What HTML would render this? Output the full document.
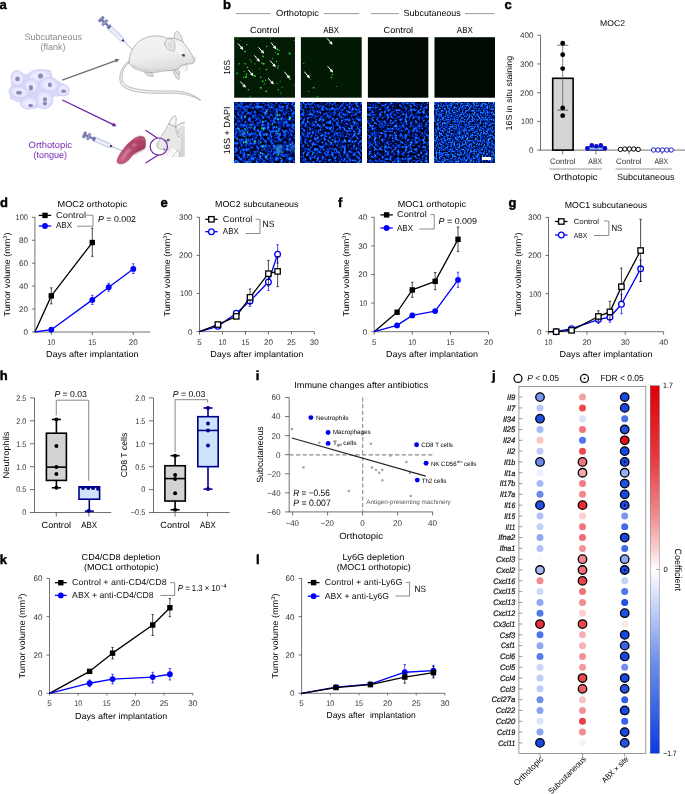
<!DOCTYPE html><html><head><meta charset="utf-8"><title>Figure</title><style>html,body{margin:0;padding:0;background:#fff}svg{display:block}</style></head><body><svg width="685" height="794" viewBox="0 0 685 794" font-family="'Liberation Sans', sans-serif" text-rendering="geometricPrecision"><defs><linearGradient id="cb" x1="0" y1="0" x2="0" y2="1"><stop offset="0" stop-color="#de0008"/><stop offset="0.2" stop-color="#e63a40"/><stop offset="0.35" stop-color="#f08a8d"/><stop offset="0.45" stop-color="#fad4d5"/><stop offset="0.5" stop-color="#ffffff"/><stop offset="0.55" stop-color="#e4eafc"/><stop offset="0.75" stop-color="#6f90ea"/><stop offset="1" stop-color="#0b3be0"/></linearGradient><filter id="soft" x="-10%" y="-10%" width="120%" height="120%"><feGaussianBlur stdDeviation="0.45"/></filter><radialGradient id="cellg"><stop offset="0" stop-color="#f1f1fe"/><stop offset="0.6" stop-color="#e7e8fd"/><stop offset="1" stop-color="#d4d5f9"/></radialGradient><linearGradient id="mg" x1="0" y1="0" x2="0.3" y2="1"><stop offset="0" stop-color="#f4f4f4"/><stop offset="0.6" stop-color="#eeeeee"/><stop offset="1" stop-color="#dcdcdc"/></linearGradient><linearGradient id="tg" x1="0.1" y1="0.9" x2="0.9" y2="0.1"><stop offset="0" stop-color="#c25c80"/><stop offset="0.5" stop-color="#b4486d"/><stop offset="1" stop-color="#a93d62"/></linearGradient><filter id="tb" x="-20%" y="-20%" width="140%" height="140%"><feGaussianBlur stdDeviation="17"/></filter><filter id="d1" x="0" y="0" width="1" height="1" color-interpolation-filters="sRGB"><feTurbulence type="fractalNoise" baseFrequency="0.37 0.33" numOctaves="3" seed="7" result="n"/><feColorMatrix type="matrix" values="2.3 0 0 0 -0.78  2.3 0 0 0 -0.78  2.3 0 0 0 -0.78  0 0 0 0 1"/><feComponentTransfer><feFuncR type="table" tableValues="0 0 0.01 0.02 0.05 0.10"/><feFuncG type="table" tableValues="0.01 0.04 0.13 0.25 0.40 0.54"/><feFuncB type="table" tableValues="0.08 0.26 0.62 0.88 0.98 1"/></feComponentTransfer></filter><filter id="d2" x="0" y="0" width="1" height="1" color-interpolation-filters="sRGB"><feTurbulence type="fractalNoise" baseFrequency="0.41 0.37" numOctaves="3" seed="21" result="n"/><feColorMatrix type="matrix" values="2.5 0 0 0 -0.91  2.5 0 0 0 -0.91  2.5 0 0 0 -0.91  0 0 0 0 1"/><feComponentTransfer><feFuncR type="table" tableValues="0 0 0.01 0.02 0.05 0.10"/><feFuncG type="table" tableValues="0.01 0.04 0.13 0.26 0.41 0.55"/><feFuncB type="table" tableValues="0.07 0.24 0.62 0.90 0.98 1"/></feComponentTransfer></filter><filter id="d3" x="0" y="0" width="1" height="1" color-interpolation-filters="sRGB"><feTurbulence type="fractalNoise" baseFrequency="0.39 0.43" numOctaves="3" seed="33" result="n"/><feColorMatrix type="matrix" values="2.5 0 0 0 -0.93  2.5 0 0 0 -0.93  2.5 0 0 0 -0.93  0 0 0 0 1"/><feComponentTransfer><feFuncR type="table" tableValues="0 0 0.01 0.02 0.05 0.10"/><feFuncG type="table" tableValues="0.01 0.04 0.13 0.26 0.41 0.55"/><feFuncB type="table" tableValues="0.07 0.24 0.62 0.90 0.98 1"/></feComponentTransfer></filter><filter id="d4" x="0" y="0" width="1" height="1" color-interpolation-filters="sRGB"><feTurbulence type="fractalNoise" baseFrequency="0.61 0.57" numOctaves="2" seed="48" result="n"/><feColorMatrix type="matrix" values="2.5 0 0 0 -0.88  2.5 0 0 0 -0.88  2.5 0 0 0 -0.88  0 0 0 0 1"/><feComponentTransfer><feFuncR type="table" tableValues="0 0 0.02 0.04 0.08 0.14"/><feFuncG type="table" tableValues="0.02 0.07 0.19 0.33 0.48 0.62"/><feFuncB type="table" tableValues="0.10 0.32 0.72 0.94 1 1"/></feComponentTransfer></filter><filter id="gb2" x="-30%" y="-30%" width="160%" height="160%"><feGaussianBlur stdDeviation="1.1"/></filter><filter id="gb" x="-5%" y="-5%" width="110%" height="110%"><feGaussianBlur stdDeviation="0.38"/></filter></defs><rect width="685" height="794" fill="#fff"/><g id="panel-d">
<text x="0.00" y="207.30" font-size="13" fill="#000" font-weight="bold" stroke="#000" stroke-width="0.45">d</text>
<text x="57.50" y="207.40" font-size="8.6" textLength="69.50" lengthAdjust="spacingAndGlyphs">MOC2 orthotopic</text>
<line x1="34.90" y1="332.30" x2="34.90" y2="217.00" stroke="#3a3a3a" stroke-width="0.72"/>
<line x1="34.60" y1="332.00" x2="150.20" y2="332.00" stroke="#3a3a3a" stroke-width="0.72"/>
<line x1="31.90" y1="332.00" x2="34.90" y2="332.00" stroke="#3a3a3a" stroke-width="0.72"/>
<text x="27.90" y="334.90" font-size="8.1" text-anchor="end" fill="#333" textLength="4.50" lengthAdjust="spacingAndGlyphs">0</text>
<line x1="31.90" y1="309.06" x2="34.90" y2="309.06" stroke="#3a3a3a" stroke-width="0.72"/>
<text x="27.90" y="311.96" font-size="8.1" text-anchor="end" fill="#333" textLength="9.00" lengthAdjust="spacingAndGlyphs">20</text>
<line x1="31.90" y1="286.12" x2="34.90" y2="286.12" stroke="#3a3a3a" stroke-width="0.72"/>
<text x="27.90" y="289.02" font-size="8.1" text-anchor="end" fill="#333" textLength="9.00" lengthAdjust="spacingAndGlyphs">40</text>
<line x1="31.90" y1="263.18" x2="34.90" y2="263.18" stroke="#3a3a3a" stroke-width="0.72"/>
<text x="27.90" y="266.08" font-size="8.1" text-anchor="end" fill="#333" textLength="9.00" lengthAdjust="spacingAndGlyphs">60</text>
<line x1="31.90" y1="240.24" x2="34.90" y2="240.24" stroke="#3a3a3a" stroke-width="0.72"/>
<text x="27.90" y="243.14" font-size="8.1" text-anchor="end" fill="#333" textLength="9.00" lengthAdjust="spacingAndGlyphs">80</text>
<line x1="31.90" y1="217.30" x2="34.90" y2="217.30" stroke="#3a3a3a" stroke-width="0.72"/>
<text x="27.90" y="220.20" font-size="8.1" text-anchor="end" fill="#333" textLength="12.40" lengthAdjust="spacingAndGlyphs">100</text>
<line x1="51.30" y1="332.00" x2="51.30" y2="335.00" stroke="#3a3a3a" stroke-width="0.72"/>
<text x="51.30" y="345.00" font-size="8.1" text-anchor="middle" fill="#333" textLength="7.90" lengthAdjust="spacingAndGlyphs">10</text>
<line x1="92.30" y1="332.00" x2="92.30" y2="335.00" stroke="#3a3a3a" stroke-width="0.72"/>
<text x="92.30" y="345.00" font-size="8.1" text-anchor="middle" fill="#333" textLength="7.90" lengthAdjust="spacingAndGlyphs">15</text>
<line x1="133.30" y1="332.00" x2="133.30" y2="335.00" stroke="#3a3a3a" stroke-width="0.72"/>
<text x="133.30" y="345.00" font-size="8.1" text-anchor="middle" fill="#333" textLength="9.00" lengthAdjust="spacingAndGlyphs">20</text>
<line x1="51.30" y1="303.90" x2="51.30" y2="287.84" stroke="#000" stroke-width="0.7"/>
<line x1="50.10" y1="303.90" x2="52.50" y2="303.90" stroke="#000" stroke-width="0.7"/>
<line x1="50.10" y1="287.84" x2="52.50" y2="287.84" stroke="#000" stroke-width="0.7"/>
<line x1="92.30" y1="256.30" x2="92.30" y2="228.20" stroke="#000" stroke-width="0.7"/>
<line x1="91.10" y1="256.30" x2="93.50" y2="256.30" stroke="#000" stroke-width="0.7"/>
<line x1="91.10" y1="228.20" x2="93.50" y2="228.20" stroke="#000" stroke-width="0.7"/>
<polyline points="34.90,332.00 51.30,295.87 92.30,242.53" fill="none" stroke="#000" stroke-width="1.3" stroke-linejoin="round"/>
<rect x="48.60" y="293.17" width="5.40" height="5.40" fill="#000"/>
<rect x="89.60" y="239.83" width="5.40" height="5.40" fill="#000"/>
<line x1="92.30" y1="304.47" x2="92.30" y2="295.30" stroke="#0000ff" stroke-width="0.7"/>
<line x1="91.10" y1="304.47" x2="93.50" y2="304.47" stroke="#0000ff" stroke-width="0.7"/>
<line x1="91.10" y1="295.30" x2="93.50" y2="295.30" stroke="#0000ff" stroke-width="0.7"/>
<line x1="108.70" y1="291.28" x2="108.70" y2="283.25" stroke="#0000ff" stroke-width="0.7"/>
<line x1="107.50" y1="291.28" x2="109.90" y2="291.28" stroke="#0000ff" stroke-width="0.7"/>
<line x1="107.50" y1="283.25" x2="109.90" y2="283.25" stroke="#0000ff" stroke-width="0.7"/>
<line x1="133.30" y1="273.50" x2="133.30" y2="263.75" stroke="#0000ff" stroke-width="0.7"/>
<line x1="132.10" y1="273.50" x2="134.50" y2="273.50" stroke="#0000ff" stroke-width="0.7"/>
<line x1="132.10" y1="263.75" x2="134.50" y2="263.75" stroke="#0000ff" stroke-width="0.7"/>
<polyline points="34.90,332.00 51.30,329.71 92.30,299.88 108.70,287.27 133.30,268.92" fill="none" stroke="#0000ff" stroke-width="1.3" stroke-linejoin="round"/>
<circle cx="51.30" cy="329.71" r="2.9" fill="#0000ff"/>
<circle cx="92.30" cy="299.88" r="2.9" fill="#0000ff"/>
<circle cx="108.70" cy="287.27" r="2.9" fill="#0000ff"/>
<circle cx="133.30" cy="268.92" r="2.9" fill="#0000ff"/>
<text x="10.40" y="274.50" font-size="8.6" text-anchor="middle" transform="rotate(-90 10.40 274.50)" textLength="84.00" lengthAdjust="spacingAndGlyphs">Tumor volume (mm<tspan dy="-3" font-size="5.5">3</tspan><tspan dy="3">)</tspan></text>
<line x1="38.80" y1="215.40" x2="51.20" y2="215.40" stroke="#000" stroke-width="1.3"/>
<rect x="42.30" y="212.70" width="5.40" height="5.40" fill="#000"/>
<line x1="38.80" y1="226.00" x2="51.20" y2="226.00" stroke="#0000ff" stroke-width="1.3"/>
<circle cx="45.00" cy="226.00" r="2.9" fill="#0000ff"/>
<text x="56.00" y="217.80" font-size="8.6" fill="#111" textLength="30.00" lengthAdjust="spacingAndGlyphs">Control</text>
<text x="56.00" y="228.40" font-size="8.6" fill="#111" textLength="16.00" lengthAdjust="spacingAndGlyphs">ABX</text>
<polyline points="86.30,215.20 93.00,215.20 93.00,226.20 77.00,226.20" fill="none" stroke="#555" stroke-width="0.68"/>
<text x="98.00" y="222.40" font-size="8.6" textLength="38.00" lengthAdjust="spacingAndGlyphs"><tspan font-style="italic">P</tspan> = 0.002</text>
<text x="45.90" y="357.00" font-size="8.6" textLength="92.60" lengthAdjust="spacingAndGlyphs">Days after implantation</text>
</g>
<g id="panel-e">
<text x="160.60" y="207.30" font-size="13" fill="#000" font-weight="bold" stroke="#000" stroke-width="0.45">e</text>
<text x="215.00" y="207.40" font-size="8.6" textLength="83.50" lengthAdjust="spacingAndGlyphs">MOC2 subcutaneous</text>
<line x1="199.50" y1="331.90" x2="199.50" y2="217.00" stroke="#3a3a3a" stroke-width="0.72"/>
<line x1="199.20" y1="331.60" x2="314.20" y2="331.60" stroke="#3a3a3a" stroke-width="0.72"/>
<line x1="196.50" y1="331.60" x2="199.50" y2="331.60" stroke="#3a3a3a" stroke-width="0.72"/>
<text x="192.50" y="334.50" font-size="8.1" text-anchor="end" fill="#333" textLength="4.50" lengthAdjust="spacingAndGlyphs">0</text>
<line x1="196.50" y1="293.50" x2="199.50" y2="293.50" stroke="#3a3a3a" stroke-width="0.72"/>
<text x="192.50" y="296.40" font-size="8.1" text-anchor="end" fill="#333" textLength="12.40" lengthAdjust="spacingAndGlyphs">100</text>
<line x1="196.50" y1="255.40" x2="199.50" y2="255.40" stroke="#3a3a3a" stroke-width="0.72"/>
<text x="192.50" y="258.30" font-size="8.1" text-anchor="end" fill="#333" textLength="13.50" lengthAdjust="spacingAndGlyphs">200</text>
<line x1="196.50" y1="217.30" x2="199.50" y2="217.30" stroke="#3a3a3a" stroke-width="0.72"/>
<text x="192.50" y="220.20" font-size="8.1" text-anchor="end" fill="#333" textLength="13.50" lengthAdjust="spacingAndGlyphs">300</text>
<line x1="199.50" y1="331.60" x2="199.50" y2="334.60" stroke="#3a3a3a" stroke-width="0.72"/>
<text x="199.50" y="344.60" font-size="8.1" text-anchor="middle" fill="#333" textLength="4.50" lengthAdjust="spacingAndGlyphs">5</text>
<line x1="222.47" y1="331.60" x2="222.47" y2="334.60" stroke="#3a3a3a" stroke-width="0.72"/>
<text x="222.47" y="344.60" font-size="8.1" text-anchor="middle" fill="#333" textLength="7.90" lengthAdjust="spacingAndGlyphs">10</text>
<line x1="245.44" y1="331.60" x2="245.44" y2="334.60" stroke="#3a3a3a" stroke-width="0.72"/>
<text x="245.44" y="344.60" font-size="8.1" text-anchor="middle" fill="#333" textLength="7.90" lengthAdjust="spacingAndGlyphs">15</text>
<line x1="268.41" y1="331.60" x2="268.41" y2="334.60" stroke="#3a3a3a" stroke-width="0.72"/>
<text x="268.41" y="344.60" font-size="8.1" text-anchor="middle" fill="#333" textLength="9.00" lengthAdjust="spacingAndGlyphs">20</text>
<line x1="291.38" y1="331.60" x2="291.38" y2="334.60" stroke="#3a3a3a" stroke-width="0.72"/>
<text x="291.38" y="344.60" font-size="8.1" text-anchor="middle" fill="#333" textLength="9.00" lengthAdjust="spacingAndGlyphs">25</text>
<line x1="314.35" y1="331.60" x2="314.35" y2="334.60" stroke="#3a3a3a" stroke-width="0.72"/>
<text x="314.35" y="344.60" font-size="8.1" text-anchor="middle" fill="#333" textLength="9.00" lengthAdjust="spacingAndGlyphs">30</text>
<line x1="250.03" y1="306.45" x2="250.03" y2="295.41" stroke="#0000ff" stroke-width="0.7"/>
<line x1="248.83" y1="306.45" x2="251.23" y2="306.45" stroke="#0000ff" stroke-width="0.7"/>
<line x1="248.83" y1="295.41" x2="251.23" y2="295.41" stroke="#0000ff" stroke-width="0.7"/>
<line x1="268.41" y1="290.45" x2="268.41" y2="273.69" stroke="#0000ff" stroke-width="0.7"/>
<line x1="267.21" y1="290.45" x2="269.61" y2="290.45" stroke="#0000ff" stroke-width="0.7"/>
<line x1="267.21" y1="273.69" x2="269.61" y2="273.69" stroke="#0000ff" stroke-width="0.7"/>
<line x1="277.60" y1="263.02" x2="277.60" y2="244.73" stroke="#0000ff" stroke-width="0.7"/>
<line x1="276.40" y1="263.02" x2="278.80" y2="263.02" stroke="#0000ff" stroke-width="0.7"/>
<line x1="276.40" y1="244.73" x2="278.80" y2="244.73" stroke="#0000ff" stroke-width="0.7"/>
<polyline points="199.50,331.60 217.88,326.27 236.25,313.31 250.03,301.12 268.41,282.07 277.60,254.26" fill="none" stroke="#0000ff" stroke-width="1.3" stroke-linejoin="round"/>
<circle cx="217.88" cy="326.27" r="2.85" fill="#fff" stroke="#0000ff" stroke-width="1.3"/>
<circle cx="236.25" cy="313.31" r="2.85" fill="#fff" stroke="#0000ff" stroke-width="1.3"/>
<circle cx="250.03" cy="301.12" r="2.85" fill="#fff" stroke="#0000ff" stroke-width="1.3"/>
<circle cx="268.41" cy="282.07" r="2.85" fill="#fff" stroke="#0000ff" stroke-width="1.3"/>
<circle cx="277.60" cy="254.26" r="2.85" fill="#fff" stroke="#0000ff" stroke-width="1.3"/>
<line x1="250.03" y1="304.17" x2="250.03" y2="288.93" stroke="#000" stroke-width="0.7"/>
<line x1="248.83" y1="304.17" x2="251.23" y2="304.17" stroke="#000" stroke-width="0.7"/>
<line x1="248.83" y1="288.93" x2="251.23" y2="288.93" stroke="#000" stroke-width="0.7"/>
<line x1="268.41" y1="285.88" x2="268.41" y2="260.35" stroke="#000" stroke-width="0.7"/>
<line x1="267.21" y1="285.88" x2="269.61" y2="285.88" stroke="#000" stroke-width="0.7"/>
<line x1="267.21" y1="260.35" x2="269.61" y2="260.35" stroke="#000" stroke-width="0.7"/>
<line x1="277.60" y1="286.64" x2="277.60" y2="256.54" stroke="#000" stroke-width="0.7"/>
<line x1="276.40" y1="286.64" x2="278.80" y2="286.64" stroke="#000" stroke-width="0.7"/>
<line x1="276.40" y1="256.54" x2="278.80" y2="256.54" stroke="#000" stroke-width="0.7"/>
<polyline points="199.50,331.60 217.88,324.55 236.25,316.36 250.03,297.31 268.41,273.69 277.60,271.40" fill="none" stroke="#000" stroke-width="1.3" stroke-linejoin="round"/>
<rect x="215.18" y="321.85" width="5.40" height="5.40" fill="#fff" stroke="#000" stroke-width="1.3"/>
<rect x="233.55" y="313.66" width="5.40" height="5.40" fill="#fff" stroke="#000" stroke-width="1.3"/>
<rect x="247.33" y="294.61" width="5.40" height="5.40" fill="#fff" stroke="#000" stroke-width="1.3"/>
<rect x="265.71" y="270.99" width="5.40" height="5.40" fill="#fff" stroke="#000" stroke-width="1.3"/>
<rect x="274.90" y="268.70" width="5.40" height="5.40" fill="#fff" stroke="#000" stroke-width="1.3"/>
<text x="170.30" y="274.50" font-size="8.6" text-anchor="middle" transform="rotate(-90 170.30 274.50)" textLength="84.00" lengthAdjust="spacingAndGlyphs">Tumor volume (mm<tspan dy="-3" font-size="5.5">3</tspan><tspan dy="3">)</tspan></text>
<line x1="205.20" y1="219.30" x2="217.60" y2="219.30" stroke="#000" stroke-width="1.3"/>
<rect x="208.70" y="216.60" width="5.40" height="5.40" fill="#fff" stroke="#000" stroke-width="1.3"/>
<line x1="205.20" y1="231.70" x2="217.60" y2="231.70" stroke="#0000ff" stroke-width="1.3"/>
<circle cx="211.40" cy="231.70" r="2.85" fill="#fff" stroke="#0000ff" stroke-width="1.3"/>
<text x="222.80" y="221.90" font-size="8.6" fill="#111" textLength="29.50" lengthAdjust="spacingAndGlyphs">Control</text>
<text x="222.80" y="234.30" font-size="8.6" fill="#111" textLength="16.00" lengthAdjust="spacingAndGlyphs">ABX</text>
<polyline points="255.60,219.30 260.00,219.30 260.00,233.50 245.60,233.50" fill="none" stroke="#555" stroke-width="0.68"/>
<text x="262.50" y="227.40" font-size="9" textLength="12.00" lengthAdjust="spacingAndGlyphs">NS</text>
<text x="210.20" y="357.00" font-size="8.6" textLength="93.20" lengthAdjust="spacingAndGlyphs">Days after implantation</text>
</g>
<g id="panel-f">
<text x="338.00" y="207.30" font-size="13" fill="#000" font-weight="bold" stroke="#000" stroke-width="0.45">f</text>
<text x="397.80" y="207.40" font-size="8.6" textLength="68.20" lengthAdjust="spacingAndGlyphs">MOC1 orthotopic</text>
<line x1="374.20" y1="332.00" x2="374.20" y2="217.00" stroke="#3a3a3a" stroke-width="0.72"/>
<line x1="373.90" y1="331.70" x2="488.60" y2="331.70" stroke="#3a3a3a" stroke-width="0.72"/>
<line x1="371.20" y1="331.70" x2="374.20" y2="331.70" stroke="#3a3a3a" stroke-width="0.72"/>
<text x="367.20" y="334.60" font-size="8.1" text-anchor="end" fill="#333" textLength="4.50" lengthAdjust="spacingAndGlyphs">0</text>
<line x1="371.20" y1="303.10" x2="374.20" y2="303.10" stroke="#3a3a3a" stroke-width="0.72"/>
<text x="367.20" y="306.00" font-size="8.1" text-anchor="end" fill="#333" textLength="7.90" lengthAdjust="spacingAndGlyphs">10</text>
<line x1="371.20" y1="274.50" x2="374.20" y2="274.50" stroke="#3a3a3a" stroke-width="0.72"/>
<text x="367.20" y="277.40" font-size="8.1" text-anchor="end" fill="#333" textLength="9.00" lengthAdjust="spacingAndGlyphs">20</text>
<line x1="371.20" y1="245.90" x2="374.20" y2="245.90" stroke="#3a3a3a" stroke-width="0.72"/>
<text x="367.20" y="248.80" font-size="8.1" text-anchor="end" fill="#333" textLength="9.00" lengthAdjust="spacingAndGlyphs">30</text>
<line x1="371.20" y1="217.30" x2="374.20" y2="217.30" stroke="#3a3a3a" stroke-width="0.72"/>
<text x="367.20" y="220.20" font-size="8.1" text-anchor="end" fill="#333" textLength="9.00" lengthAdjust="spacingAndGlyphs">40</text>
<line x1="374.20" y1="331.70" x2="374.20" y2="334.70" stroke="#3a3a3a" stroke-width="0.72"/>
<text x="374.20" y="344.70" font-size="8.1" text-anchor="middle" fill="#333" textLength="4.50" lengthAdjust="spacingAndGlyphs">5</text>
<line x1="412.30" y1="331.70" x2="412.30" y2="334.70" stroke="#3a3a3a" stroke-width="0.72"/>
<text x="412.30" y="344.70" font-size="8.1" text-anchor="middle" fill="#333" textLength="7.90" lengthAdjust="spacingAndGlyphs">10</text>
<line x1="450.40" y1="331.70" x2="450.40" y2="334.70" stroke="#3a3a3a" stroke-width="0.72"/>
<text x="450.40" y="344.70" font-size="8.1" text-anchor="middle" fill="#333" textLength="7.90" lengthAdjust="spacingAndGlyphs">15</text>
<line x1="488.50" y1="331.70" x2="488.50" y2="334.70" stroke="#3a3a3a" stroke-width="0.72"/>
<text x="488.50" y="344.70" font-size="8.1" text-anchor="middle" fill="#333" textLength="9.00" lengthAdjust="spacingAndGlyphs">20</text>
<line x1="412.30" y1="297.38" x2="412.30" y2="282.22" stroke="#000" stroke-width="0.7"/>
<line x1="411.10" y1="297.38" x2="413.50" y2="297.38" stroke="#000" stroke-width="0.7"/>
<line x1="411.10" y1="282.22" x2="413.50" y2="282.22" stroke="#000" stroke-width="0.7"/>
<line x1="435.16" y1="289.66" x2="435.16" y2="272.50" stroke="#000" stroke-width="0.7"/>
<line x1="433.96" y1="289.66" x2="436.36" y2="289.66" stroke="#000" stroke-width="0.7"/>
<line x1="433.96" y1="272.50" x2="436.36" y2="272.50" stroke="#000" stroke-width="0.7"/>
<line x1="458.02" y1="251.62" x2="458.02" y2="227.02" stroke="#000" stroke-width="0.7"/>
<line x1="456.82" y1="251.62" x2="459.22" y2="251.62" stroke="#000" stroke-width="0.7"/>
<line x1="456.82" y1="227.02" x2="459.22" y2="227.02" stroke="#000" stroke-width="0.7"/>
<polyline points="374.20,331.70 397.06,312.25 412.30,289.94 435.16,281.36 458.02,239.32" fill="none" stroke="#000" stroke-width="1.3" stroke-linejoin="round"/>
<rect x="394.36" y="309.55" width="5.40" height="5.40" fill="#000"/>
<rect x="409.60" y="287.24" width="5.40" height="5.40" fill="#000"/>
<rect x="432.46" y="278.66" width="5.40" height="5.40" fill="#000"/>
<rect x="455.32" y="236.62" width="5.40" height="5.40" fill="#000"/>
<line x1="458.02" y1="287.37" x2="458.02" y2="272.21" stroke="#0000ff" stroke-width="0.7"/>
<line x1="456.82" y1="287.37" x2="459.22" y2="287.37" stroke="#0000ff" stroke-width="0.7"/>
<line x1="456.82" y1="272.21" x2="459.22" y2="272.21" stroke="#0000ff" stroke-width="0.7"/>
<polyline points="374.20,331.70 397.06,325.41 412.30,315.40 435.16,311.11 458.02,279.93" fill="none" stroke="#0000ff" stroke-width="1.3" stroke-linejoin="round"/>
<circle cx="397.06" cy="325.41" r="2.9" fill="#0000ff"/>
<circle cx="412.30" cy="315.40" r="2.9" fill="#0000ff"/>
<circle cx="435.16" cy="311.11" r="2.9" fill="#0000ff"/>
<circle cx="458.02" cy="279.93" r="2.9" fill="#0000ff"/>
<text x="349.00" y="274.50" font-size="8.6" text-anchor="middle" transform="rotate(-90 349.00 274.50)" textLength="84.00" lengthAdjust="spacingAndGlyphs">Tumor volume (mm<tspan dy="-3" font-size="5.5">3</tspan><tspan dy="3">)</tspan></text>
<line x1="380.40" y1="214.90" x2="392.80" y2="214.90" stroke="#000" stroke-width="1.3"/>
<rect x="383.90" y="212.20" width="5.40" height="5.40" fill="#000"/>
<line x1="380.40" y1="228.00" x2="392.80" y2="228.00" stroke="#0000ff" stroke-width="1.3"/>
<circle cx="386.60" cy="228.00" r="2.9" fill="#0000ff"/>
<text x="397.00" y="217.40" font-size="8.6" fill="#111" textLength="29.80" lengthAdjust="spacingAndGlyphs">Control</text>
<text x="397.00" y="230.60" font-size="8.6" fill="#111" textLength="16.00" lengthAdjust="spacingAndGlyphs">ABX</text>
<polyline points="430.50,214.60 434.20,214.60 434.20,229.00 419.40,229.00" fill="none" stroke="#555" stroke-width="0.68"/>
<text x="438.50" y="223.50" font-size="8.6" textLength="38.50" lengthAdjust="spacingAndGlyphs"><tspan font-style="italic">P</tspan> = 0.009</text>
<text x="386.00" y="357.00" font-size="8.6" textLength="92.00" lengthAdjust="spacingAndGlyphs">Days after implantation</text>
</g>
<g id="panel-g">
<text x="508.60" y="207.30" font-size="13" fill="#000" font-weight="bold" stroke="#000" stroke-width="0.45">g</text>
<text x="564.80" y="207.70" font-size="8.6" textLength="82.40" lengthAdjust="spacingAndGlyphs">MOC1 subcutaneous</text>
<line x1="548.50" y1="332.00" x2="548.50" y2="217.00" stroke="#3a3a3a" stroke-width="0.72"/>
<line x1="548.20" y1="331.70" x2="663.60" y2="331.70" stroke="#3a3a3a" stroke-width="0.72"/>
<line x1="545.50" y1="331.70" x2="548.50" y2="331.70" stroke="#3a3a3a" stroke-width="0.72"/>
<text x="541.50" y="334.60" font-size="8.1" text-anchor="end" fill="#333" textLength="4.50" lengthAdjust="spacingAndGlyphs">0</text>
<line x1="545.50" y1="293.60" x2="548.50" y2="293.60" stroke="#3a3a3a" stroke-width="0.72"/>
<text x="541.50" y="296.50" font-size="8.1" text-anchor="end" fill="#333" textLength="12.40" lengthAdjust="spacingAndGlyphs">100</text>
<line x1="545.50" y1="255.50" x2="548.50" y2="255.50" stroke="#3a3a3a" stroke-width="0.72"/>
<text x="541.50" y="258.40" font-size="8.1" text-anchor="end" fill="#333" textLength="13.50" lengthAdjust="spacingAndGlyphs">200</text>
<line x1="545.50" y1="217.40" x2="548.50" y2="217.40" stroke="#3a3a3a" stroke-width="0.72"/>
<text x="541.50" y="220.30" font-size="8.1" text-anchor="end" fill="#333" textLength="13.50" lengthAdjust="spacingAndGlyphs">300</text>
<line x1="548.50" y1="331.70" x2="548.50" y2="334.70" stroke="#3a3a3a" stroke-width="0.72"/>
<text x="548.50" y="344.70" font-size="8.1" text-anchor="middle" fill="#333" textLength="7.90" lengthAdjust="spacingAndGlyphs">10</text>
<line x1="586.88" y1="331.70" x2="586.88" y2="334.70" stroke="#3a3a3a" stroke-width="0.72"/>
<text x="586.88" y="344.70" font-size="8.1" text-anchor="middle" fill="#333" textLength="9.00" lengthAdjust="spacingAndGlyphs">20</text>
<line x1="625.26" y1="331.70" x2="625.26" y2="334.70" stroke="#3a3a3a" stroke-width="0.72"/>
<text x="625.26" y="344.70" font-size="8.1" text-anchor="middle" fill="#333" textLength="9.00" lengthAdjust="spacingAndGlyphs">30</text>
<line x1="663.64" y1="331.70" x2="663.64" y2="334.70" stroke="#3a3a3a" stroke-width="0.72"/>
<text x="663.64" y="344.70" font-size="8.1" text-anchor="middle" fill="#333" textLength="9.00" lengthAdjust="spacingAndGlyphs">40</text>
<line x1="598.39" y1="323.32" x2="598.39" y2="315.70" stroke="#0000ff" stroke-width="0.7"/>
<line x1="597.19" y1="323.32" x2="599.59" y2="323.32" stroke="#0000ff" stroke-width="0.7"/>
<line x1="597.19" y1="315.70" x2="599.59" y2="315.70" stroke="#0000ff" stroke-width="0.7"/>
<line x1="609.91" y1="322.18" x2="609.91" y2="312.65" stroke="#0000ff" stroke-width="0.7"/>
<line x1="608.71" y1="322.18" x2="611.11" y2="322.18" stroke="#0000ff" stroke-width="0.7"/>
<line x1="608.71" y1="312.65" x2="611.11" y2="312.65" stroke="#0000ff" stroke-width="0.7"/>
<line x1="621.42" y1="313.79" x2="621.42" y2="294.36" stroke="#0000ff" stroke-width="0.7"/>
<line x1="620.22" y1="313.79" x2="622.62" y2="313.79" stroke="#0000ff" stroke-width="0.7"/>
<line x1="620.22" y1="294.36" x2="622.62" y2="294.36" stroke="#0000ff" stroke-width="0.7"/>
<line x1="640.61" y1="281.41" x2="640.61" y2="260.07" stroke="#0000ff" stroke-width="0.7"/>
<line x1="639.41" y1="281.41" x2="641.81" y2="281.41" stroke="#0000ff" stroke-width="0.7"/>
<line x1="639.41" y1="260.07" x2="641.81" y2="260.07" stroke="#0000ff" stroke-width="0.7"/>
<polyline points="548.50,331.70 556.18,331.70 571.53,328.65 598.39,319.51 609.91,317.22 621.42,304.27 640.61,268.83" fill="none" stroke="#0000ff" stroke-width="1.3" stroke-linejoin="round"/>
<circle cx="556.18" cy="331.70" r="2.85" fill="#fff" stroke="#0000ff" stroke-width="1.3"/>
<circle cx="571.53" cy="328.65" r="2.85" fill="#fff" stroke="#0000ff" stroke-width="1.3"/>
<circle cx="598.39" cy="319.51" r="2.85" fill="#fff" stroke="#0000ff" stroke-width="1.3"/>
<circle cx="609.91" cy="317.22" r="2.85" fill="#fff" stroke="#0000ff" stroke-width="1.3"/>
<circle cx="621.42" cy="304.27" r="2.85" fill="#fff" stroke="#0000ff" stroke-width="1.3"/>
<circle cx="640.61" cy="268.83" r="2.85" fill="#fff" stroke="#0000ff" stroke-width="1.3"/>
<line x1="598.39" y1="321.03" x2="598.39" y2="310.75" stroke="#000" stroke-width="0.7"/>
<line x1="597.19" y1="321.03" x2="599.59" y2="321.03" stroke="#000" stroke-width="0.7"/>
<line x1="597.19" y1="310.75" x2="599.59" y2="310.75" stroke="#000" stroke-width="0.7"/>
<line x1="609.91" y1="319.51" x2="609.91" y2="301.22" stroke="#000" stroke-width="0.7"/>
<line x1="608.71" y1="319.51" x2="611.11" y2="319.51" stroke="#000" stroke-width="0.7"/>
<line x1="608.71" y1="301.22" x2="611.11" y2="301.22" stroke="#000" stroke-width="0.7"/>
<line x1="621.42" y1="301.22" x2="621.42" y2="268.07" stroke="#000" stroke-width="0.7"/>
<line x1="620.22" y1="301.22" x2="622.62" y2="301.22" stroke="#000" stroke-width="0.7"/>
<line x1="620.22" y1="268.07" x2="622.62" y2="268.07" stroke="#000" stroke-width="0.7"/>
<line x1="640.61" y1="281.41" x2="640.61" y2="219.31" stroke="#000" stroke-width="0.7"/>
<line x1="639.41" y1="281.41" x2="641.81" y2="281.41" stroke="#000" stroke-width="0.7"/>
<line x1="639.41" y1="219.31" x2="641.81" y2="219.31" stroke="#000" stroke-width="0.7"/>
<polyline points="548.50,331.70 556.18,331.70 571.53,330.33 598.39,316.46 609.91,311.89 621.42,286.74 640.61,250.55" fill="none" stroke="#000" stroke-width="1.3" stroke-linejoin="round"/>
<rect x="553.48" y="329.00" width="5.40" height="5.40" fill="#fff" stroke="#000" stroke-width="1.3"/>
<rect x="568.83" y="327.63" width="5.40" height="5.40" fill="#fff" stroke="#000" stroke-width="1.3"/>
<rect x="595.69" y="313.76" width="5.40" height="5.40" fill="#fff" stroke="#000" stroke-width="1.3"/>
<rect x="607.21" y="309.19" width="5.40" height="5.40" fill="#fff" stroke="#000" stroke-width="1.3"/>
<rect x="618.72" y="284.04" width="5.40" height="5.40" fill="#fff" stroke="#000" stroke-width="1.3"/>
<rect x="637.91" y="247.85" width="5.40" height="5.40" fill="#fff" stroke="#000" stroke-width="1.3"/>
<text x="521.40" y="274.50" font-size="8.6" text-anchor="middle" transform="rotate(-90 521.40 274.50)" textLength="84.00" lengthAdjust="spacingAndGlyphs">Tumor volume (mm<tspan dy="-3" font-size="5.5">3</tspan><tspan dy="3">)</tspan></text>
<line x1="555.10" y1="221.50" x2="567.50" y2="221.50" stroke="#000" stroke-width="1.3"/>
<rect x="558.60" y="218.80" width="5.40" height="5.40" fill="#fff" stroke="#000" stroke-width="1.3"/>
<line x1="555.10" y1="235.00" x2="567.50" y2="235.00" stroke="#0000ff" stroke-width="1.3"/>
<circle cx="561.30" cy="235.00" r="2.85" fill="#fff" stroke="#0000ff" stroke-width="1.3"/>
<text x="573.70" y="224.20" font-size="7.4" fill="#111" textLength="25.30" lengthAdjust="spacingAndGlyphs">Control</text>
<text x="573.70" y="237.70" font-size="7.4" fill="#111" textLength="13.70" lengthAdjust="spacingAndGlyphs">ABX</text>
<polyline points="604.00,221.00 608.80,221.00 608.80,235.50 594.00,235.50" fill="none" stroke="#555" stroke-width="0.68"/>
<text x="611.50" y="230.70" font-size="9" textLength="10.80" lengthAdjust="spacingAndGlyphs">NS</text>
<text x="559.50" y="357.00" font-size="8.6" textLength="93.00" lengthAdjust="spacingAndGlyphs">Days after implantation</text>
</g>
<g id="panel-c">
<text x="504.60" y="9.10" font-size="13" fill="#000" font-weight="bold" stroke="#000" stroke-width="0.45">c</text>
<text x="600.00" y="26.20" font-size="8.4" textLength="25.00" lengthAdjust="spacingAndGlyphs">MOC2</text>
<line x1="540.50" y1="150.40" x2="540.50" y2="35.22" stroke="#3a3a3a" stroke-width="0.72"/>
<line x1="540.20" y1="150.10" x2="685.00" y2="150.10" stroke="#3a3a3a" stroke-width="0.72"/>
<line x1="537.20" y1="150.10" x2="540.50" y2="150.10" stroke="#3a3a3a" stroke-width="0.72"/>
<text x="533.40" y="153.00" font-size="8.1" text-anchor="end" fill="#333" textLength="4.50" lengthAdjust="spacingAndGlyphs">0</text>
<line x1="537.20" y1="121.38" x2="540.50" y2="121.38" stroke="#3a3a3a" stroke-width="0.72"/>
<text x="533.40" y="124.28" font-size="8.1" text-anchor="end" fill="#333" textLength="12.40" lengthAdjust="spacingAndGlyphs">100</text>
<line x1="537.20" y1="92.66" x2="540.50" y2="92.66" stroke="#3a3a3a" stroke-width="0.72"/>
<text x="533.40" y="95.56" font-size="8.1" text-anchor="end" fill="#333" textLength="13.50" lengthAdjust="spacingAndGlyphs">200</text>
<line x1="537.20" y1="63.94" x2="540.50" y2="63.94" stroke="#3a3a3a" stroke-width="0.72"/>
<text x="533.40" y="66.84" font-size="8.1" text-anchor="end" fill="#333" textLength="13.50" lengthAdjust="spacingAndGlyphs">300</text>
<line x1="537.20" y1="35.22" x2="540.50" y2="35.22" stroke="#3a3a3a" stroke-width="0.72"/>
<text x="533.40" y="38.12" font-size="8.1" text-anchor="end" fill="#333" textLength="13.50" lengthAdjust="spacingAndGlyphs">400</text>
<line x1="562.70" y1="150.10" x2="562.70" y2="154.40" stroke="#3a3a3a" stroke-width="0.72"/>
<line x1="595.90" y1="150.10" x2="595.90" y2="154.40" stroke="#3a3a3a" stroke-width="0.72"/>
<line x1="629.00" y1="150.10" x2="629.00" y2="154.40" stroke="#3a3a3a" stroke-width="0.72"/>
<line x1="662.00" y1="150.10" x2="662.00" y2="154.40" stroke="#3a3a3a" stroke-width="0.72"/>
<rect x="552.70" y="78.30" width="20.40" height="71.80" fill="#d4d4d4" stroke="#000" stroke-width="1.6"/>
<line x1="562.70" y1="110.18" x2="562.70" y2="45.27" stroke="#555" stroke-width="0.7"/>
<line x1="557.30" y1="45.27" x2="568.30" y2="45.27" stroke="#333" stroke-width="0.7"/>
<line x1="557.30" y1="110.18" x2="568.30" y2="110.18" stroke="#333" stroke-width="0.7"/>
<circle cx="562.70" cy="43.26" r="2.4" fill="#000"/>
<circle cx="562.70" cy="54.75" r="2.4" fill="#000"/>
<circle cx="562.70" cy="68.54" r="2.4" fill="#000"/>
<circle cx="562.70" cy="107.88" r="2.4" fill="#000"/>
<circle cx="562.70" cy="115.64" r="2.4" fill="#000"/>
<rect x="586.50" y="146.94" width="19.00" height="3.16" fill="#9cc3ee" stroke="#00008b" stroke-width="1.0"/>
<circle cx="587.30" cy="148.20" r="2.3" fill="#0a0acd"/>
<circle cx="591.80" cy="145.20" r="2.3" fill="#0a0acd"/>
<circle cx="596.30" cy="146.20" r="2.3" fill="#0a0acd"/>
<circle cx="600.80" cy="145.40" r="2.3" fill="#0a0acd"/>
<circle cx="605.00" cy="148.20" r="2.3" fill="#0a0acd"/>
<circle cx="620.40" cy="149.40" r="2.2" fill="#fff" stroke="#000" stroke-width="1.0"/>
<circle cx="624.85" cy="149.00" r="2.2" fill="#fff" stroke="#000" stroke-width="1.0"/>
<circle cx="629.30" cy="149.00" r="2.2" fill="#fff" stroke="#000" stroke-width="1.0"/>
<circle cx="633.75" cy="149.00" r="2.2" fill="#fff" stroke="#000" stroke-width="1.0"/>
<circle cx="638.20" cy="149.40" r="2.2" fill="#fff" stroke="#000" stroke-width="1.0"/>
<circle cx="653.60" cy="150.00" r="2.2" fill="#fff" stroke="#1a1acd" stroke-width="1.0"/>
<circle cx="658.00" cy="150.00" r="2.2" fill="#fff" stroke="#1a1acd" stroke-width="1.0"/>
<circle cx="662.40" cy="150.00" r="2.2" fill="#fff" stroke="#1a1acd" stroke-width="1.0"/>
<circle cx="666.80" cy="150.00" r="2.2" fill="#fff" stroke="#1a1acd" stroke-width="1.0"/>
<circle cx="671.20" cy="150.00" r="2.2" fill="#fff" stroke="#1a1acd" stroke-width="1.0"/>
<text x="562.70" y="164.40" font-size="8.0" text-anchor="middle" fill="#333" textLength="25.50" lengthAdjust="spacingAndGlyphs">Control</text>
<text x="595.20" y="164.40" font-size="8.0" text-anchor="middle" fill="#333" textLength="13.80" lengthAdjust="spacingAndGlyphs">ABX</text>
<text x="628.80" y="164.40" font-size="8.0" text-anchor="middle" fill="#333" textLength="25.50" lengthAdjust="spacingAndGlyphs">Control</text>
<text x="661.30" y="164.40" font-size="8.0" text-anchor="middle" fill="#333" textLength="13.80" lengthAdjust="spacingAndGlyphs">ABX</text>
<line x1="549.40" y1="169.00" x2="602.00" y2="169.00" stroke="#555" stroke-width="0.6"/>
<line x1="615.60" y1="169.00" x2="671.80" y2="169.00" stroke="#555" stroke-width="0.6"/>
<text x="575.60" y="179.60" font-size="9" text-anchor="middle" textLength="44.00" lengthAdjust="spacingAndGlyphs">Orthotopic</text>
<text x="645.80" y="179.60" font-size="9" text-anchor="middle" textLength="57.50" lengthAdjust="spacingAndGlyphs">Subcutaneous</text>
<text x="512.30" y="93.20" font-size="8.6" text-anchor="middle" transform="rotate(-90 512.30 93.20)" textLength="74.60" lengthAdjust="spacingAndGlyphs">16S in situ staining</text>
</g>
<g id="panel-h">
<text x="-0.20" y="379.90" font-size="13" fill="#000" font-weight="bold" stroke="#000" stroke-width="0.45">h</text>
<line x1="34.50" y1="512.80" x2="34.50" y2="397.90" stroke="#3a3a3a" stroke-width="0.72"/>
<line x1="34.20" y1="512.50" x2="111.20" y2="512.50" stroke="#3a3a3a" stroke-width="0.72"/>
<line x1="29.90" y1="512.50" x2="34.50" y2="512.50" stroke="#3a3a3a" stroke-width="0.72"/>
<text x="26.30" y="515.40" font-size="8.1" text-anchor="end" fill="#333" textLength="4.10" lengthAdjust="spacingAndGlyphs">0</text>
<line x1="29.90" y1="489.58" x2="34.50" y2="489.58" stroke="#3a3a3a" stroke-width="0.72"/>
<text x="26.30" y="492.48" font-size="8.1" text-anchor="end" fill="#333" textLength="10.10" lengthAdjust="spacingAndGlyphs">0.5</text>
<line x1="29.90" y1="466.66" x2="34.50" y2="466.66" stroke="#3a3a3a" stroke-width="0.72"/>
<text x="26.30" y="469.56" font-size="8.1" text-anchor="end" fill="#333" textLength="10.10" lengthAdjust="spacingAndGlyphs">1.0</text>
<line x1="29.90" y1="443.74" x2="34.50" y2="443.74" stroke="#3a3a3a" stroke-width="0.72"/>
<text x="26.30" y="446.64" font-size="8.1" text-anchor="end" fill="#333" textLength="10.10" lengthAdjust="spacingAndGlyphs">1.5</text>
<line x1="29.90" y1="420.82" x2="34.50" y2="420.82" stroke="#3a3a3a" stroke-width="0.72"/>
<text x="26.30" y="423.72" font-size="8.1" text-anchor="end" fill="#333" textLength="10.10" lengthAdjust="spacingAndGlyphs">2.0</text>
<line x1="29.90" y1="397.90" x2="34.50" y2="397.90" stroke="#3a3a3a" stroke-width="0.72"/>
<text x="26.30" y="400.80" font-size="8.1" text-anchor="end" fill="#333" textLength="10.10" lengthAdjust="spacingAndGlyphs">2.5</text>
<line x1="56.30" y1="512.50" x2="56.30" y2="516.50" stroke="#3a3a3a" stroke-width="0.72"/>
<line x1="88.90" y1="512.50" x2="88.90" y2="516.50" stroke="#3a3a3a" stroke-width="0.72"/>
<line x1="56.40" y1="487.75" x2="56.40" y2="419.44" stroke="#000" stroke-width="1.6"/>
<rect x="46.40" y="433.20" width="20.00" height="47.22" fill="#d3d3d3" stroke="#000" stroke-width="1.6"/>
<line x1="46.40" y1="467.12" x2="66.40" y2="467.12" stroke="#000" stroke-width="1.6"/>
<line x1="51.90" y1="487.75" x2="60.90" y2="487.75" stroke="#000" stroke-width="1.6"/>
<line x1="51.90" y1="419.44" x2="60.90" y2="419.44" stroke="#000" stroke-width="1.6"/>
<circle cx="56.40" cy="419.44" r="2.0" fill="#000"/>
<circle cx="56.40" cy="446.03" r="2.0" fill="#000"/>
<circle cx="56.40" cy="467.12" r="2.0" fill="#000"/>
<circle cx="56.40" cy="473.99" r="2.0" fill="#000"/>
<circle cx="56.40" cy="487.75" r="2.0" fill="#000"/>
<line x1="89.30" y1="511.12" x2="89.30" y2="486.83" stroke="#00008b" stroke-width="1.6"/>
<rect x="79.00" y="486.83" width="20.60" height="12.38" fill="#cfe2fb" stroke="#00008b" stroke-width="1.6"/>
<line x1="79.00" y1="486.83" x2="99.60" y2="486.83" stroke="#00008b" stroke-width="1.6"/>
<line x1="84.80" y1="511.12" x2="93.80" y2="511.12" stroke="#00008b" stroke-width="1.6"/>
<line x1="84.80" y1="486.83" x2="93.80" y2="486.83" stroke="#00008b" stroke-width="1.6"/>
<circle cx="83.00" cy="487.98" r="2.0" fill="#00008b"/>
<circle cx="88.30" cy="487.98" r="2.0" fill="#00008b"/>
<circle cx="93.00" cy="487.98" r="2.0" fill="#00008b"/>
<circle cx="98.00" cy="488.66" r="2.0" fill="#00008b"/>
<circle cx="88.70" cy="511.12" r="2.0" fill="#00008b"/>
<text x="9.40" y="455.00" font-size="8.6" text-anchor="middle" transform="rotate(-90 9.40 455.00)" textLength="47.00" lengthAdjust="spacingAndGlyphs">Neutrophils</text>
<text x="54.40" y="396.80" font-size="8.6" textLength="32.50" lengthAdjust="spacingAndGlyphs"><tspan font-style="italic">P</tspan> = 0.03</text>
<polyline points="56.30,415.40 56.30,400.20 88.70,400.20 88.70,480.70" fill="none" stroke="#555" stroke-width="0.7"/>
<text x="56.30" y="527.90" font-size="9" text-anchor="middle" textLength="29.50" lengthAdjust="spacingAndGlyphs">Control</text>
<text x="89.20" y="527.90" font-size="9" text-anchor="middle" textLength="16.00" lengthAdjust="spacingAndGlyphs">ABX</text>
<line x1="153.50" y1="512.80" x2="153.50" y2="397.90" stroke="#3a3a3a" stroke-width="0.72"/>
<line x1="153.20" y1="512.50" x2="229.60" y2="512.50" stroke="#3a3a3a" stroke-width="0.72"/>
<line x1="148.90" y1="512.50" x2="153.50" y2="512.50" stroke="#3a3a3a" stroke-width="0.72"/>
<text x="145.30" y="515.40" font-size="8.1" text-anchor="end" fill="#333" textLength="14.50" lengthAdjust="spacingAndGlyphs">−0.5</text>
<line x1="148.90" y1="489.58" x2="153.50" y2="489.58" stroke="#3a3a3a" stroke-width="0.72"/>
<text x="145.30" y="492.48" font-size="8.1" text-anchor="end" fill="#333" textLength="4.10" lengthAdjust="spacingAndGlyphs">0</text>
<line x1="148.90" y1="466.66" x2="153.50" y2="466.66" stroke="#3a3a3a" stroke-width="0.72"/>
<text x="145.30" y="469.56" font-size="8.1" text-anchor="end" fill="#333" textLength="10.10" lengthAdjust="spacingAndGlyphs">0.5</text>
<line x1="148.90" y1="443.74" x2="153.50" y2="443.74" stroke="#3a3a3a" stroke-width="0.72"/>
<text x="145.30" y="446.64" font-size="8.1" text-anchor="end" fill="#333" textLength="10.10" lengthAdjust="spacingAndGlyphs">1.0</text>
<line x1="148.90" y1="420.82" x2="153.50" y2="420.82" stroke="#3a3a3a" stroke-width="0.72"/>
<text x="145.30" y="423.72" font-size="8.1" text-anchor="end" fill="#333" textLength="10.10" lengthAdjust="spacingAndGlyphs">1.5</text>
<line x1="148.90" y1="397.90" x2="153.50" y2="397.90" stroke="#3a3a3a" stroke-width="0.72"/>
<text x="145.30" y="400.80" font-size="8.1" text-anchor="end" fill="#333" textLength="10.10" lengthAdjust="spacingAndGlyphs">2.0</text>
<line x1="175.10" y1="512.50" x2="175.10" y2="516.50" stroke="#3a3a3a" stroke-width="0.72"/>
<line x1="207.60" y1="512.50" x2="207.60" y2="516.50" stroke="#3a3a3a" stroke-width="0.72"/>
<line x1="175.10" y1="509.75" x2="175.10" y2="455.66" stroke="#000" stroke-width="1.6"/>
<rect x="164.90" y="465.74" width="20.40" height="35.30" fill="#d3d3d3" stroke="#000" stroke-width="1.6"/>
<line x1="164.90" y1="478.58" x2="185.30" y2="478.58" stroke="#000" stroke-width="1.6"/>
<line x1="170.60" y1="509.75" x2="179.60" y2="509.75" stroke="#000" stroke-width="1.6"/>
<line x1="170.60" y1="455.66" x2="179.60" y2="455.66" stroke="#000" stroke-width="1.6"/>
<circle cx="175.10" cy="455.66" r="2.0" fill="#000"/>
<circle cx="175.10" cy="474.91" r="2.0" fill="#000"/>
<circle cx="175.10" cy="479.04" r="2.0" fill="#000"/>
<circle cx="175.10" cy="493.25" r="2.0" fill="#000"/>
<circle cx="175.10" cy="509.75" r="2.0" fill="#000"/>
<line x1="208.00" y1="489.12" x2="208.00" y2="407.98" stroke="#00008b" stroke-width="1.6"/>
<rect x="197.80" y="416.69" width="20.40" height="49.97" fill="#cfe2fb" stroke="#00008b" stroke-width="1.6"/>
<line x1="197.80" y1="430.45" x2="218.20" y2="430.45" stroke="#00008b" stroke-width="1.6"/>
<line x1="203.50" y1="489.12" x2="212.50" y2="489.12" stroke="#00008b" stroke-width="1.6"/>
<line x1="203.50" y1="407.98" x2="212.50" y2="407.98" stroke="#00008b" stroke-width="1.6"/>
<circle cx="208.00" cy="407.98" r="2.0" fill="#00008b"/>
<circle cx="208.00" cy="423.57" r="2.0" fill="#00008b"/>
<circle cx="208.00" cy="430.45" r="2.0" fill="#00008b"/>
<circle cx="208.00" cy="445.57" r="2.0" fill="#00008b"/>
<circle cx="208.00" cy="489.12" r="2.0" fill="#00008b"/>
<text x="127.00" y="455.00" font-size="8.6" text-anchor="middle" transform="rotate(-90 127.00 455.00)" textLength="44.70" lengthAdjust="spacingAndGlyphs">CD8 T cells</text>
<text x="172.80" y="396.80" font-size="8.6" textLength="32.50" lengthAdjust="spacingAndGlyphs"><tspan font-style="italic">P</tspan> = 0.03</text>
<polyline points="175.10,452.30 175.10,399.70 207.60,399.70 207.60,402.60" fill="none" stroke="#555" stroke-width="0.7"/>
<text x="175.10" y="527.90" font-size="9" text-anchor="middle" textLength="29.50" lengthAdjust="spacingAndGlyphs">Control</text>
<text x="207.80" y="527.90" font-size="9" text-anchor="middle" textLength="15.60" lengthAdjust="spacingAndGlyphs">ABX</text>
</g>
<g id="panel-i">
<text x="255.70" y="379.90" font-size="13" fill="#000" font-weight="bold" stroke="#000" stroke-width="0.45">i</text>
<text x="294.30" y="387.70" font-size="8.8" textLength="133.90" lengthAdjust="spacingAndGlyphs">Immune changes after antibiotics</text>
<line x1="289.20" y1="397.49" x2="289.20" y2="512.21" stroke="#3a3a3a" stroke-width="0.72"/>
<line x1="288.90" y1="511.91" x2="432.70" y2="511.91" stroke="#3a3a3a" stroke-width="0.72"/>
<line x1="285.00" y1="397.49" x2="289.20" y2="397.49" stroke="#3a3a3a" stroke-width="0.72"/>
<text x="280.60" y="400.39" font-size="8.3" text-anchor="end" fill="#333" textLength="9.00" lengthAdjust="spacingAndGlyphs">60</text>
<line x1="285.00" y1="416.56" x2="289.20" y2="416.56" stroke="#3a3a3a" stroke-width="0.72"/>
<text x="280.60" y="419.46" font-size="8.3" text-anchor="end" fill="#333" textLength="9.00" lengthAdjust="spacingAndGlyphs">40</text>
<line x1="285.00" y1="435.63" x2="289.20" y2="435.63" stroke="#3a3a3a" stroke-width="0.72"/>
<text x="280.60" y="438.53" font-size="8.3" text-anchor="end" fill="#333" textLength="9.00" lengthAdjust="spacingAndGlyphs">20</text>
<line x1="285.00" y1="454.70" x2="289.20" y2="454.70" stroke="#3a3a3a" stroke-width="0.72"/>
<text x="280.60" y="457.60" font-size="8.3" text-anchor="end" fill="#333" textLength="4.50" lengthAdjust="spacingAndGlyphs">0</text>
<line x1="285.00" y1="473.77" x2="289.20" y2="473.77" stroke="#3a3a3a" stroke-width="0.72"/>
<text x="280.60" y="476.67" font-size="8.3" text-anchor="end" fill="#333" textLength="13.30" lengthAdjust="spacingAndGlyphs">−20</text>
<line x1="285.00" y1="492.84" x2="289.20" y2="492.84" stroke="#3a3a3a" stroke-width="0.72"/>
<text x="280.60" y="495.74" font-size="8.3" text-anchor="end" fill="#333" textLength="13.30" lengthAdjust="spacingAndGlyphs">−40</text>
<line x1="285.00" y1="511.91" x2="289.20" y2="511.91" stroke="#3a3a3a" stroke-width="0.72"/>
<text x="280.60" y="514.81" font-size="8.3" text-anchor="end" fill="#333" textLength="13.30" lengthAdjust="spacingAndGlyphs">−60</text>
<line x1="292.60" y1="511.91" x2="292.60" y2="515.41" stroke="#3a3a3a" stroke-width="0.72"/>
<text x="292.30" y="526.40" font-size="8.3" text-anchor="middle" fill="#333" textLength="13.30" lengthAdjust="spacingAndGlyphs">−40</text>
<line x1="327.60" y1="511.91" x2="327.60" y2="515.41" stroke="#3a3a3a" stroke-width="0.72"/>
<text x="327.30" y="526.40" font-size="8.3" text-anchor="middle" fill="#333" textLength="13.30" lengthAdjust="spacingAndGlyphs">−20</text>
<line x1="362.60" y1="511.91" x2="362.60" y2="515.41" stroke="#3a3a3a" stroke-width="0.72"/>
<text x="362.60" y="526.40" font-size="8.3" text-anchor="middle" fill="#333" textLength="4.50" lengthAdjust="spacingAndGlyphs">0</text>
<line x1="397.60" y1="511.91" x2="397.60" y2="515.41" stroke="#3a3a3a" stroke-width="0.72"/>
<text x="397.60" y="526.40" font-size="8.3" text-anchor="middle" fill="#333" textLength="9.00" lengthAdjust="spacingAndGlyphs">20</text>
<line x1="432.60" y1="511.91" x2="432.60" y2="515.41" stroke="#3a3a3a" stroke-width="0.72"/>
<text x="432.60" y="526.40" font-size="8.3" text-anchor="middle" fill="#333" textLength="9.00" lengthAdjust="spacingAndGlyphs">40</text>
<line x1="362.70" y1="397.49" x2="362.70" y2="511.91" stroke="#8a8a8a" stroke-width="1.1" stroke-dasharray="4.2 2.4"/>
<line x1="289.50" y1="454.90" x2="432.70" y2="454.90" stroke="#8a8a8a" stroke-width="1.1" stroke-dasharray="4.2 2.4"/>
<circle cx="291.90" cy="429.10" r="1.3" fill="#a6a6a6"/>
<circle cx="319.30" cy="442.70" r="1.3" fill="#a6a6a6"/>
<circle cx="303.50" cy="467.40" r="1.3" fill="#a6a6a6"/>
<circle cx="348.80" cy="491.00" r="1.3" fill="#a6a6a6"/>
<circle cx="356.00" cy="455.60" r="1.3" fill="#a6a6a6"/>
<circle cx="370.80" cy="443.70" r="1.3" fill="#a6a6a6"/>
<circle cx="372.00" cy="467.60" r="1.3" fill="#a6a6a6"/>
<circle cx="376.00" cy="470.00" r="1.3" fill="#a6a6a6"/>
<circle cx="379.20" cy="472.80" r="1.3" fill="#a6a6a6"/>
<circle cx="382.20" cy="469.70" r="1.3" fill="#a6a6a6"/>
<circle cx="382.40" cy="480.30" r="1.3" fill="#a6a6a6"/>
<circle cx="390.60" cy="455.60" r="1.3" fill="#a6a6a6"/>
<circle cx="406.40" cy="462.00" r="1.3" fill="#a6a6a6"/>
<circle cx="410.00" cy="473.00" r="1.3" fill="#a6a6a6"/>
<circle cx="410.70" cy="496.00" r="1.3" fill="#a6a6a6"/>
<line x1="291.90" y1="438.00" x2="425.70" y2="476.10" stroke="#222" stroke-width="1.25"/>
<circle cx="310.90" cy="417.60" r="2.45" fill="#0000ee"/>
<circle cx="328.10" cy="432.50" r="2.45" fill="#0000ee"/>
<circle cx="328.10" cy="443.40" r="2.45" fill="#0000ee"/>
<circle cx="416.60" cy="444.70" r="2.45" fill="#0000ee"/>
<circle cx="426.10" cy="463.30" r="2.45" fill="#0000ee"/>
<circle cx="417.30" cy="480.10" r="2.45" fill="#0000ee"/>
<text x="315.90" y="419.70" font-size="6.3" textLength="32.60" lengthAdjust="spacingAndGlyphs">Neutrophils</text>
<text x="332.90" y="434.40" font-size="6.3" textLength="37.70" lengthAdjust="spacingAndGlyphs">Macrophages</text>
<text x="332.90" y="444.80" font-size="6.3" textLength="23.60" lengthAdjust="spacingAndGlyphs">T<tspan dy="1.4" font-size="4">gd</tspan><tspan dy="-1.4"> cells</tspan></text>
<text x="421.20" y="447.00" font-size="6.3" textLength="31.70" lengthAdjust="spacingAndGlyphs">CD8 T cells</text>
<text x="430.90" y="465.50" font-size="6.3" textLength="45.30" lengthAdjust="spacingAndGlyphs">NK CD56<tspan dy="-2.2" font-size="3.6">dim</tspan><tspan dy="2.2"> cells</tspan></text>
<text x="421.70" y="482.50" font-size="6.3" textLength="24.60" lengthAdjust="spacingAndGlyphs">Th2 cells</text>
<text x="366.30" y="503.80" font-size="6.3" fill="#555" textLength="84.50" lengthAdjust="spacingAndGlyphs">Antigen-presenting machinery</text>
<text x="293.30" y="496.40" font-size="9.2" textLength="36.50" lengthAdjust="spacingAndGlyphs"><tspan font-style="italic">R</tspan> = −0.56</text>
<text x="293.30" y="506.00" font-size="9.2" textLength="37.50" lengthAdjust="spacingAndGlyphs"><tspan font-style="italic">P</tspan> = 0.007</text>
<text x="339.20" y="539.40" font-size="9" textLength="43.80" lengthAdjust="spacingAndGlyphs">Orthotopic</text>
<text x="262.60" y="454.50" font-size="9" text-anchor="middle" transform="rotate(-90 262.60 454.50)" textLength="56.60" lengthAdjust="spacingAndGlyphs">Subcutaneous</text>
</g>
<g id="panel-k">
<text x="-0.20" y="564.00" font-size="13" fill="#000" font-weight="bold" stroke="#000" stroke-width="0.45">k</text>
<text x="120.90" y="560.00" font-size="8.6" text-anchor="middle" textLength="78.70" lengthAdjust="spacingAndGlyphs">CD4/CD8 depletion</text>
<text x="121.20" y="569.60" font-size="8.6" text-anchor="middle" textLength="74.40" lengthAdjust="spacingAndGlyphs">(MOC1 orthotopic)</text>
<line x1="49.50" y1="693.70" x2="49.50" y2="578.20" stroke="#3a3a3a" stroke-width="0.72"/>
<line x1="49.20" y1="693.40" x2="192.90" y2="693.40" stroke="#3a3a3a" stroke-width="0.72"/>
<line x1="46.50" y1="693.40" x2="49.50" y2="693.40" stroke="#3a3a3a" stroke-width="0.72"/>
<text x="42.50" y="696.30" font-size="8.1" text-anchor="end" fill="#333" textLength="4.50" lengthAdjust="spacingAndGlyphs">0</text>
<line x1="46.50" y1="655.07" x2="49.50" y2="655.07" stroke="#3a3a3a" stroke-width="0.72"/>
<text x="42.50" y="657.97" font-size="8.1" text-anchor="end" fill="#333" textLength="9.00" lengthAdjust="spacingAndGlyphs">20</text>
<line x1="46.50" y1="616.74" x2="49.50" y2="616.74" stroke="#3a3a3a" stroke-width="0.72"/>
<text x="42.50" y="619.64" font-size="8.1" text-anchor="end" fill="#333" textLength="9.00" lengthAdjust="spacingAndGlyphs">40</text>
<line x1="46.50" y1="578.41" x2="49.50" y2="578.41" stroke="#3a3a3a" stroke-width="0.72"/>
<text x="42.50" y="581.31" font-size="8.1" text-anchor="end" fill="#333" textLength="9.00" lengthAdjust="spacingAndGlyphs">60</text>
<line x1="49.50" y1="693.40" x2="49.50" y2="695.50" stroke="#3a3a3a" stroke-width="0.72"/>
<text x="49.50" y="706.40" font-size="8.1" text-anchor="middle" fill="#333" textLength="4.50" lengthAdjust="spacingAndGlyphs">5</text>
<line x1="78.16" y1="693.40" x2="78.16" y2="695.50" stroke="#3a3a3a" stroke-width="0.72"/>
<text x="78.16" y="706.40" font-size="8.1" text-anchor="middle" fill="#333" textLength="7.90" lengthAdjust="spacingAndGlyphs">10</text>
<line x1="106.82" y1="693.40" x2="106.82" y2="695.50" stroke="#3a3a3a" stroke-width="0.72"/>
<text x="106.82" y="706.40" font-size="8.1" text-anchor="middle" fill="#333" textLength="7.90" lengthAdjust="spacingAndGlyphs">15</text>
<line x1="135.48" y1="693.40" x2="135.48" y2="695.50" stroke="#3a3a3a" stroke-width="0.72"/>
<text x="135.48" y="706.40" font-size="8.1" text-anchor="middle" fill="#333" textLength="9.00" lengthAdjust="spacingAndGlyphs">20</text>
<line x1="164.14" y1="693.40" x2="164.14" y2="695.50" stroke="#3a3a3a" stroke-width="0.72"/>
<text x="164.14" y="706.40" font-size="8.1" text-anchor="middle" fill="#333" textLength="9.00" lengthAdjust="spacingAndGlyphs">25</text>
<line x1="192.80" y1="693.40" x2="192.80" y2="695.50" stroke="#3a3a3a" stroke-width="0.72"/>
<text x="192.80" y="706.40" font-size="8.1" text-anchor="middle" fill="#333" textLength="9.00" lengthAdjust="spacingAndGlyphs">30</text>
<line x1="112.55" y1="658.90" x2="112.55" y2="647.40" stroke="#000" stroke-width="0.7"/>
<line x1="111.35" y1="658.90" x2="113.75" y2="658.90" stroke="#000" stroke-width="0.7"/>
<line x1="111.35" y1="647.40" x2="113.75" y2="647.40" stroke="#000" stroke-width="0.7"/>
<line x1="152.68" y1="635.52" x2="152.68" y2="614.44" stroke="#000" stroke-width="0.7"/>
<line x1="151.48" y1="635.52" x2="153.88" y2="635.52" stroke="#000" stroke-width="0.7"/>
<line x1="151.48" y1="614.44" x2="153.88" y2="614.44" stroke="#000" stroke-width="0.7"/>
<line x1="169.87" y1="616.74" x2="169.87" y2="598.53" stroke="#000" stroke-width="0.7"/>
<line x1="168.67" y1="616.74" x2="171.07" y2="616.74" stroke="#000" stroke-width="0.7"/>
<line x1="168.67" y1="598.53" x2="171.07" y2="598.53" stroke="#000" stroke-width="0.7"/>
<polyline points="49.50,693.40 89.62,671.36 112.55,653.15 152.68,624.98 169.87,607.73" fill="none" stroke="#000" stroke-width="1.3" stroke-linejoin="round"/>
<rect x="86.92" y="668.66" width="5.40" height="5.40" fill="#000"/>
<rect x="109.85" y="650.45" width="5.40" height="5.40" fill="#000"/>
<rect x="149.98" y="622.28" width="5.40" height="5.40" fill="#000"/>
<rect x="167.17" y="605.03" width="5.40" height="5.40" fill="#000"/>
<line x1="89.62" y1="686.69" x2="89.62" y2="679.98" stroke="#0000ff" stroke-width="0.7"/>
<line x1="88.42" y1="686.69" x2="90.82" y2="686.69" stroke="#0000ff" stroke-width="0.7"/>
<line x1="88.42" y1="679.98" x2="90.82" y2="679.98" stroke="#0000ff" stroke-width="0.7"/>
<line x1="112.55" y1="683.82" x2="112.55" y2="674.24" stroke="#0000ff" stroke-width="0.7"/>
<line x1="111.35" y1="683.82" x2="113.75" y2="683.82" stroke="#0000ff" stroke-width="0.7"/>
<line x1="111.35" y1="674.24" x2="113.75" y2="674.24" stroke="#0000ff" stroke-width="0.7"/>
<line x1="152.68" y1="682.86" x2="152.68" y2="672.32" stroke="#0000ff" stroke-width="0.7"/>
<line x1="151.48" y1="682.86" x2="153.88" y2="682.86" stroke="#0000ff" stroke-width="0.7"/>
<line x1="151.48" y1="672.32" x2="153.88" y2="672.32" stroke="#0000ff" stroke-width="0.7"/>
<line x1="169.87" y1="679.98" x2="169.87" y2="668.49" stroke="#0000ff" stroke-width="0.7"/>
<line x1="168.67" y1="679.98" x2="171.07" y2="679.98" stroke="#0000ff" stroke-width="0.7"/>
<line x1="168.67" y1="668.49" x2="171.07" y2="668.49" stroke="#0000ff" stroke-width="0.7"/>
<polyline points="49.50,693.40 89.62,683.24 112.55,679.03 152.68,677.11 169.87,674.24" fill="none" stroke="#0000ff" stroke-width="1.3" stroke-linejoin="round"/>
<circle cx="89.62" cy="683.24" r="2.9" fill="#0000ff"/>
<circle cx="112.55" cy="679.03" r="2.9" fill="#0000ff"/>
<circle cx="152.68" cy="677.11" r="2.9" fill="#0000ff"/>
<circle cx="169.87" cy="674.24" r="2.9" fill="#0000ff"/>
<text x="24.80" y="636.00" font-size="8.6" text-anchor="middle" transform="rotate(-90 24.80 636.00)" textLength="85.00" lengthAdjust="spacingAndGlyphs">Tumor volume (mm<tspan dy="-3" font-size="5.5">3</tspan><tspan dy="3">)</tspan></text>
<line x1="54.90" y1="582.70" x2="66.70" y2="582.70" stroke="#000" stroke-width="1.3"/>
<rect x="58.10" y="580.00" width="5.40" height="5.40" fill="#000"/>
<line x1="54.90" y1="595.40" x2="66.70" y2="595.40" stroke="#0000ff" stroke-width="1.3"/>
<circle cx="60.80" cy="595.40" r="2.9" fill="#0000ff"/>
<text x="72.10" y="585.30" font-size="8.6" fill="#111" textLength="94.60" lengthAdjust="spacingAndGlyphs">Control + anti-CD4/CD8</text>
<text x="72.10" y="597.70" font-size="8.6" fill="#111" textLength="81.50" lengthAdjust="spacingAndGlyphs">ABX + anti-CD4/CD8</text>
<polyline points="170.10,582.70 174.70,582.70 174.70,595.40 160.40,595.40" fill="none" stroke="#555" stroke-width="0.68"/>
<text x="177.80" y="591.30" font-size="8.6" textLength="48.80" lengthAdjust="spacingAndGlyphs"><tspan font-style="italic">P</tspan> = 1.3 × 10<tspan dy="-3.4" font-size="6.2">−4</tspan></text>
<text x="74.90" y="718.80" font-size="8.6" textLength="92.30" lengthAdjust="spacingAndGlyphs">Days after implantation</text>
</g>
<g id="panel-l">
<text x="255.90" y="564.00" font-size="13" fill="#000" font-weight="bold" stroke="#000" stroke-width="0.45">l</text>
<text x="373.40" y="560.00" font-size="8.6" text-anchor="middle" textLength="61.80" lengthAdjust="spacingAndGlyphs">Ly6G depletion</text>
<text x="373.80" y="569.60" font-size="8.6" text-anchor="middle" textLength="74.00" lengthAdjust="spacingAndGlyphs">(MOC1 orthotopic)</text>
<line x1="301.60" y1="693.60" x2="301.60" y2="578.20" stroke="#3a3a3a" stroke-width="0.72"/>
<line x1="301.30" y1="693.30" x2="445.00" y2="693.30" stroke="#3a3a3a" stroke-width="0.72"/>
<line x1="298.60" y1="693.30" x2="301.60" y2="693.30" stroke="#3a3a3a" stroke-width="0.72"/>
<text x="294.60" y="696.20" font-size="8.1" text-anchor="end" fill="#333" textLength="4.50" lengthAdjust="spacingAndGlyphs">0</text>
<line x1="298.60" y1="655.00" x2="301.60" y2="655.00" stroke="#3a3a3a" stroke-width="0.72"/>
<text x="294.60" y="657.90" font-size="8.1" text-anchor="end" fill="#333" textLength="9.00" lengthAdjust="spacingAndGlyphs">20</text>
<line x1="298.60" y1="616.70" x2="301.60" y2="616.70" stroke="#3a3a3a" stroke-width="0.72"/>
<text x="294.60" y="619.60" font-size="8.1" text-anchor="end" fill="#333" textLength="9.00" lengthAdjust="spacingAndGlyphs">40</text>
<line x1="298.60" y1="578.40" x2="301.60" y2="578.40" stroke="#3a3a3a" stroke-width="0.72"/>
<text x="294.60" y="581.30" font-size="8.1" text-anchor="end" fill="#333" textLength="9.00" lengthAdjust="spacingAndGlyphs">60</text>
<line x1="301.60" y1="693.30" x2="301.60" y2="695.40" stroke="#3a3a3a" stroke-width="0.72"/>
<text x="301.60" y="706.30" font-size="8.1" text-anchor="middle" fill="#333" textLength="4.50" lengthAdjust="spacingAndGlyphs">5</text>
<line x1="330.26" y1="693.30" x2="330.26" y2="695.40" stroke="#3a3a3a" stroke-width="0.72"/>
<text x="330.26" y="706.30" font-size="8.1" text-anchor="middle" fill="#333" textLength="7.90" lengthAdjust="spacingAndGlyphs">10</text>
<line x1="358.92" y1="693.30" x2="358.92" y2="695.40" stroke="#3a3a3a" stroke-width="0.72"/>
<text x="358.92" y="706.30" font-size="8.1" text-anchor="middle" fill="#333" textLength="7.90" lengthAdjust="spacingAndGlyphs">15</text>
<line x1="387.58" y1="693.30" x2="387.58" y2="695.40" stroke="#3a3a3a" stroke-width="0.72"/>
<text x="387.58" y="706.30" font-size="8.1" text-anchor="middle" fill="#333" textLength="9.00" lengthAdjust="spacingAndGlyphs">20</text>
<line x1="416.24" y1="693.30" x2="416.24" y2="695.40" stroke="#3a3a3a" stroke-width="0.72"/>
<text x="416.24" y="706.30" font-size="8.1" text-anchor="middle" fill="#333" textLength="9.00" lengthAdjust="spacingAndGlyphs">25</text>
<line x1="444.90" y1="693.30" x2="444.90" y2="695.40" stroke="#3a3a3a" stroke-width="0.72"/>
<text x="444.90" y="706.30" font-size="8.1" text-anchor="middle" fill="#333" textLength="9.00" lengthAdjust="spacingAndGlyphs">30</text>
<line x1="404.78" y1="678.94" x2="404.78" y2="664.57" stroke="#0000ff" stroke-width="0.7"/>
<line x1="403.58" y1="678.94" x2="405.98" y2="678.94" stroke="#0000ff" stroke-width="0.7"/>
<line x1="403.58" y1="664.57" x2="405.98" y2="664.57" stroke="#0000ff" stroke-width="0.7"/>
<line x1="433.44" y1="676.06" x2="433.44" y2="665.34" stroke="#0000ff" stroke-width="0.7"/>
<line x1="432.24" y1="676.06" x2="434.64" y2="676.06" stroke="#0000ff" stroke-width="0.7"/>
<line x1="432.24" y1="665.34" x2="434.64" y2="665.34" stroke="#0000ff" stroke-width="0.7"/>
<polyline points="301.60,693.30 335.99,687.17 370.38,684.11 404.78,672.23 433.44,670.70" fill="none" stroke="#0000ff" stroke-width="1.3" stroke-linejoin="round"/>
<circle cx="335.99" cy="687.17" r="2.9" fill="#0000ff"/>
<circle cx="370.38" cy="684.11" r="2.9" fill="#0000ff"/>
<circle cx="404.78" cy="672.23" r="2.9" fill="#0000ff"/>
<circle cx="433.44" cy="670.70" r="2.9" fill="#0000ff"/>
<line x1="404.78" y1="683.15" x2="404.78" y2="672.23" stroke="#000" stroke-width="0.7"/>
<line x1="403.58" y1="683.15" x2="405.98" y2="683.15" stroke="#000" stroke-width="0.7"/>
<line x1="403.58" y1="672.23" x2="405.98" y2="672.23" stroke="#000" stroke-width="0.7"/>
<line x1="433.44" y1="677.98" x2="433.44" y2="666.49" stroke="#000" stroke-width="0.7"/>
<line x1="432.24" y1="677.98" x2="434.64" y2="677.98" stroke="#000" stroke-width="0.7"/>
<line x1="432.24" y1="666.49" x2="434.64" y2="666.49" stroke="#000" stroke-width="0.7"/>
<polyline points="301.60,693.30 335.99,687.55 370.38,684.68 404.78,677.02 433.44,672.62" fill="none" stroke="#000" stroke-width="1.3" stroke-linejoin="round"/>
<rect x="333.29" y="684.85" width="5.40" height="5.40" fill="#000"/>
<rect x="367.68" y="681.98" width="5.40" height="5.40" fill="#000"/>
<rect x="402.08" y="674.32" width="5.40" height="5.40" fill="#000"/>
<rect x="430.74" y="669.92" width="5.40" height="5.40" fill="#000"/>
<text x="278.40" y="636.00" font-size="8.6" text-anchor="middle" transform="rotate(-90 278.40 636.00)" textLength="85.00" lengthAdjust="spacingAndGlyphs">Tumor volume (mm<tspan dy="-3" font-size="5.5">3</tspan><tspan dy="3">)</tspan></text>
<line x1="307.70" y1="582.60" x2="319.50" y2="582.60" stroke="#000" stroke-width="1.3"/>
<rect x="310.90" y="579.90" width="5.40" height="5.40" fill="#000"/>
<line x1="307.70" y1="596.20" x2="319.50" y2="596.20" stroke="#0000ff" stroke-width="1.3"/>
<circle cx="313.60" cy="596.20" r="2.9" fill="#0000ff"/>
<text x="324.70" y="585.20" font-size="8.6" fill="#111" textLength="77.70" lengthAdjust="spacingAndGlyphs">Control + anti-Ly6G</text>
<text x="324.70" y="598.80" font-size="8.6" fill="#111" textLength="64.40" lengthAdjust="spacingAndGlyphs">ABX + anti-Ly6G</text>
<polyline points="405.80,582.40 409.60,582.40 409.60,596.00 395.60,596.00" fill="none" stroke="#555" stroke-width="0.68"/>
<text x="414.60" y="591.90" font-size="9" textLength="11.40" lengthAdjust="spacingAndGlyphs">NS</text>
<text x="326.50" y="718.30" font-size="8.6" textLength="89.20" lengthAdjust="spacingAndGlyphs">Days after  implantation</text>
</g>
<g id="panel-j">
<text x="492.00" y="379.90" font-size="13" fill="#000" font-weight="bold" stroke="#000" stroke-width="0.45">j</text>
<circle cx="518.00" cy="378.40" r="4.0" fill="#fff" stroke="#000" stroke-width="1.25"/>
<text x="527.20" y="381.00" font-size="8.9" textLength="31.80" lengthAdjust="spacingAndGlyphs"><tspan font-style="italic">P</tspan> &lt; 0.05</text>
<circle cx="584.50" cy="378.40" r="4.0" fill="#fff" stroke="#000" stroke-width="1.25"/>
<circle cx="584.50" cy="378.40" r="0.95" fill="#000"/>
<text x="600.40" y="381.00" font-size="8.9" textLength="43.30" lengthAdjust="spacingAndGlyphs">FDR &lt; 0.05</text>
<rect x="518.90" y="386.50" width="126.90" height="366.90" fill="none" stroke="#707070" stroke-width="0.7"/>
<rect x="650.20" y="385.80" width="9.20" height="367.50" fill="url(#cb)" stroke="#555" stroke-width="0.35"/>
<line x1="655.80" y1="569.50" x2="659.50" y2="569.50" stroke="#888" stroke-width="0.7"/>
<text x="663.00" y="388.20" font-size="7.8" textLength="9.80" lengthAdjust="spacingAndGlyphs">1.7</text>
<text x="663.60" y="572.10" font-size="7.6">0</text>
<text x="663.20" y="755.80" font-size="7.8" textLength="13.40" lengthAdjust="spacingAndGlyphs">−1.7</text>
<text x="674.60" y="569.80" font-size="9.2" text-anchor="middle" transform="rotate(90 674.60 569.80)" textLength="42.40" lengthAdjust="spacingAndGlyphs">Coefficient</text>
<line x1="518.90" y1="397.10" x2="522.40" y2="397.10" stroke="#707070" stroke-width="0.7"/>
<text x="515.20" y="399.90" font-size="7.9" text-anchor="end" font-style="italic" textLength="8.13" lengthAdjust="spacingAndGlyphs" stroke="#222" stroke-width="0.22">Il9</text>
<circle cx="540.00" cy="397.10" r="4.25" fill="#7894ef" stroke="#000" stroke-width="1.3"/>
<circle cx="582.50" cy="397.10" r="3.5" fill="#f4a2a6"/>
<circle cx="624.70" cy="397.10" r="4.25" fill="#1848e3" stroke="#000" stroke-width="1.3"/>
<line x1="518.90" y1="407.91" x2="522.40" y2="407.91" stroke="#707070" stroke-width="0.7"/>
<text x="515.20" y="410.71" font-size="7.9" text-anchor="end" font-style="italic" textLength="8.13" lengthAdjust="spacingAndGlyphs" stroke="#222" stroke-width="0.22">Il7</text>
<circle cx="540.00" cy="407.91" r="3.5" fill="#b8c7f6"/>
<circle cx="582.50" cy="407.91" r="3.5" fill="#ea4850"/>
<circle cx="624.70" cy="407.91" r="4.25" fill="#1848e3" stroke="#000" stroke-width="1.3"/>
<line x1="518.90" y1="418.71" x2="522.40" y2="418.71" stroke="#707070" stroke-width="0.7"/>
<text x="515.20" y="421.51" font-size="7.9" text-anchor="end" font-style="italic" textLength="12.31" lengthAdjust="spacingAndGlyphs" stroke="#222" stroke-width="0.22">Il34</text>
<circle cx="540.00" cy="418.71" r="4.25" fill="#2250e5" stroke="#000" stroke-width="1.3"/>
<circle cx="582.50" cy="418.71" r="3.5" fill="#d9e1fa"/>
<circle cx="624.70" cy="418.71" r="3.5" fill="#4d72ea"/>
<line x1="518.90" y1="429.52" x2="522.40" y2="429.52" stroke="#707070" stroke-width="0.7"/>
<text x="515.20" y="432.32" font-size="7.9" text-anchor="end" font-style="italic" textLength="12.31" lengthAdjust="spacingAndGlyphs" stroke="#222" stroke-width="0.22">Il25</text>
<circle cx="540.00" cy="429.52" r="3.5" fill="#a7b9f4"/>
<circle cx="582.50" cy="429.52" r="3.5" fill="#ef757b"/>
<circle cx="624.70" cy="429.52" r="4.25" fill="#2250e5" stroke="#000" stroke-width="1.3"/>
<line x1="518.90" y1="440.32" x2="522.40" y2="440.32" stroke="#707070" stroke-width="0.7"/>
<text x="515.20" y="443.12" font-size="7.9" text-anchor="end" font-style="italic" textLength="12.31" lengthAdjust="spacingAndGlyphs" stroke="#222" stroke-width="0.22">Il24</text>
<circle cx="540.00" cy="440.32" r="3.5" fill="#f9c6c8"/>
<circle cx="582.50" cy="440.32" r="3.5" fill="#5175ea"/>
<circle cx="624.70" cy="440.32" r="4.25" fill="#e30c16" stroke="#000" stroke-width="1.3"/>
<line x1="518.90" y1="451.13" x2="522.40" y2="451.13" stroke="#707070" stroke-width="0.7"/>
<text x="515.20" y="453.93" font-size="7.9" text-anchor="end" font-style="italic" textLength="8.13" lengthAdjust="spacingAndGlyphs" stroke="#222" stroke-width="0.22">Il2</text>
<circle cx="540.00" cy="451.13" r="3.5" fill="#bfccf7"/>
<circle cx="582.50" cy="451.13" r="3.5" fill="#ea4850"/>
<circle cx="624.70" cy="451.13" r="4.25" fill="#1848e3" stroke="#000" stroke-width="1.3"/>
<line x1="518.90" y1="461.94" x2="522.40" y2="461.94" stroke="#707070" stroke-width="0.7"/>
<text x="515.20" y="464.74" font-size="7.9" text-anchor="end" font-style="italic" textLength="11.25" lengthAdjust="spacingAndGlyphs" stroke="#222" stroke-width="0.22">Il1b</text>
<circle cx="540.00" cy="461.94" r="4.25" fill="#6a88ed" stroke="#000" stroke-width="1.3"/>
<circle cx="582.50" cy="461.94" r="4.25" fill="#ef757b" stroke="#000" stroke-width="1.3"/>
<circle cx="624.70" cy="461.94" r="4.25" fill="#1848e3" stroke="#000" stroke-width="1.3"/>
<circle cx="624.70" cy="461.94" r="0.9" fill="#000"/>
<line x1="518.90" y1="472.74" x2="522.40" y2="472.74" stroke="#707070" stroke-width="0.7"/>
<text x="515.20" y="475.54" font-size="7.9" text-anchor="end" font-style="italic" textLength="11.02" lengthAdjust="spacingAndGlyphs" stroke="#222" stroke-width="0.22">Il1a</text>
<circle cx="540.00" cy="472.74" r="3.5" fill="#ecf0fd"/>
<circle cx="582.50" cy="472.74" r="4.25" fill="#f5a8ac" stroke="#000" stroke-width="1.3"/>
<circle cx="624.70" cy="472.74" r="4.25" fill="#99aef3" stroke="#000" stroke-width="1.3"/>
<line x1="518.90" y1="483.55" x2="522.40" y2="483.55" stroke="#707070" stroke-width="0.7"/>
<text x="515.20" y="486.35" font-size="7.9" text-anchor="end" font-style="italic" textLength="15.43" lengthAdjust="spacingAndGlyphs" stroke="#222" stroke-width="0.22">Il17b</text>
<circle cx="540.00" cy="483.55" r="3.5" fill="#a7b9f4"/>
<circle cx="582.50" cy="483.55" r="3.5" fill="#f07e84"/>
<circle cx="624.70" cy="483.55" r="4.25" fill="#2250e5" stroke="#000" stroke-width="1.3"/>
<line x1="518.90" y1="494.35" x2="522.40" y2="494.35" stroke="#707070" stroke-width="0.7"/>
<text x="515.20" y="497.15" font-size="7.9" text-anchor="end" font-style="italic" textLength="15.20" lengthAdjust="spacingAndGlyphs" stroke="#222" stroke-width="0.22">Il17a</text>
<circle cx="540.00" cy="494.35" r="3.5" fill="#6a88ed"/>
<circle cx="582.50" cy="494.35" r="3.5" fill="#f1878c"/>
<circle cx="624.70" cy="494.35" r="4.25" fill="#1848e3" stroke="#000" stroke-width="1.3"/>
<line x1="518.90" y1="505.16" x2="522.40" y2="505.16" stroke="#707070" stroke-width="0.7"/>
<text x="515.20" y="507.96" font-size="7.9" text-anchor="end" font-style="italic" textLength="11.02" lengthAdjust="spacingAndGlyphs" stroke="#222" stroke-width="0.22">Il16</text>
<circle cx="540.00" cy="505.16" r="4.25" fill="#2250e5" stroke="#000" stroke-width="1.3"/>
<circle cx="582.50" cy="505.16" r="4.25" fill="#e72a33" stroke="#000" stroke-width="1.3"/>
<circle cx="624.70" cy="505.16" r="4.25" fill="#1848e3" stroke="#000" stroke-width="1.3"/>
<circle cx="624.70" cy="505.16" r="0.9" fill="#000"/>
<line x1="518.90" y1="515.97" x2="522.40" y2="515.97" stroke="#707070" stroke-width="0.7"/>
<text x="515.20" y="518.77" font-size="7.9" text-anchor="end" font-style="italic" textLength="11.02" lengthAdjust="spacingAndGlyphs" stroke="#222" stroke-width="0.22">Il15</text>
<circle cx="540.00" cy="515.97" r="3.5" fill="#b1c1f6"/>
<circle cx="582.50" cy="515.97" r="3.5" fill="#facfd1"/>
<circle cx="624.70" cy="515.97" r="3.5" fill="#7c97ef"/>
<line x1="518.90" y1="526.77" x2="522.40" y2="526.77" stroke="#707070" stroke-width="0.7"/>
<text x="515.20" y="529.57" font-size="7.9" text-anchor="end" font-style="italic" textLength="9.73" lengthAdjust="spacingAndGlyphs" stroke="#222" stroke-width="0.22">Il11</text>
<circle cx="540.00" cy="526.77" r="3.5" fill="#c3d0f8"/>
<circle cx="582.50" cy="526.77" r="3.5" fill="#ef757b"/>
<circle cx="624.70" cy="526.77" r="3.5" fill="#436ae8"/>
<line x1="518.90" y1="537.58" x2="522.40" y2="537.58" stroke="#707070" stroke-width="0.7"/>
<text x="515.20" y="540.38" font-size="7.9" text-anchor="end" font-style="italic" textLength="17.02" lengthAdjust="spacingAndGlyphs" stroke="#222" stroke-width="0.22">Ifna2</text>
<circle cx="540.00" cy="537.58" r="3.5" fill="#90a7f2"/>
<circle cx="582.50" cy="537.58" r="3.5" fill="#ee6e74"/>
<circle cx="624.70" cy="537.58" r="4.25" fill="#1848e3" stroke="#000" stroke-width="1.3"/>
<line x1="518.90" y1="548.38" x2="522.40" y2="548.38" stroke="#707070" stroke-width="0.7"/>
<text x="515.20" y="551.18" font-size="7.9" text-anchor="end" font-style="italic" textLength="15.73" lengthAdjust="spacingAndGlyphs" stroke="#222" stroke-width="0.22">Ifna1</text>
<circle cx="540.00" cy="548.38" r="3.5" fill="#b1c1f6"/>
<circle cx="582.50" cy="548.38" r="3.5" fill="#f39398"/>
<circle cx="624.70" cy="548.38" r="3.5" fill="#436ae8"/>
<line x1="518.90" y1="559.19" x2="522.40" y2="559.19" stroke="#707070" stroke-width="0.7"/>
<text x="515.20" y="561.99" font-size="7.9" text-anchor="end" font-style="italic" textLength="19.08" lengthAdjust="spacingAndGlyphs" stroke="#222" stroke-width="0.22">Cxcl3</text>
<circle cx="540.00" cy="559.19" r="3.5" fill="#f8f9fe"/>
<circle cx="582.50" cy="559.19" r="4.25" fill="#f1878c" stroke="#000" stroke-width="1.3"/>
<circle cx="624.70" cy="559.19" r="4.25" fill="#90a7f2" stroke="#000" stroke-width="1.3"/>
<line x1="518.90" y1="570.00" x2="522.40" y2="570.00" stroke="#707070" stroke-width="0.7"/>
<text x="515.20" y="572.80" font-size="7.9" text-anchor="end" font-style="italic" textLength="19.08" lengthAdjust="spacingAndGlyphs" stroke="#222" stroke-width="0.22">Cxcl2</text>
<circle cx="540.00" cy="570.00" r="4.25" fill="#a7b9f4" stroke="#000" stroke-width="1.3"/>
<circle cx="582.50" cy="570.00" r="4.25" fill="#ee6e74" stroke="#000" stroke-width="1.3"/>
<circle cx="624.70" cy="570.00" r="4.25" fill="#1848e3" stroke="#000" stroke-width="1.3"/>
<circle cx="624.70" cy="570.00" r="0.9" fill="#000"/>
<line x1="518.90" y1="580.80" x2="522.40" y2="580.80" stroke="#707070" stroke-width="0.7"/>
<text x="515.20" y="583.60" font-size="7.9" text-anchor="end" font-style="italic" textLength="21.96" lengthAdjust="spacingAndGlyphs" stroke="#222" stroke-width="0.22">Cxcl16</text>
<circle cx="540.00" cy="580.80" r="3.5" fill="#f28a8f"/>
<circle cx="582.50" cy="580.80" r="4.25" fill="#e94049" stroke="#000" stroke-width="1.3"/>
<circle cx="624.70" cy="580.80" r="3.5" fill="#c3d0f8"/>
<line x1="518.90" y1="591.61" x2="522.40" y2="591.61" stroke="#707070" stroke-width="0.7"/>
<text x="515.20" y="594.41" font-size="7.9" text-anchor="end" font-style="italic" textLength="21.96" lengthAdjust="spacingAndGlyphs" stroke="#222" stroke-width="0.22">Cxcl15</text>
<circle cx="540.00" cy="591.61" r="3.5" fill="#cdd7f9"/>
<circle cx="582.50" cy="591.61" r="3.5" fill="#ef757b"/>
<circle cx="624.70" cy="591.61" r="3.5" fill="#5175ea"/>
<line x1="518.90" y1="602.41" x2="522.40" y2="602.41" stroke="#707070" stroke-width="0.7"/>
<text x="515.20" y="605.21" font-size="7.9" text-anchor="end" font-style="italic" textLength="21.96" lengthAdjust="spacingAndGlyphs" stroke="#222" stroke-width="0.22">Cxcl13</text>
<circle cx="540.00" cy="602.41" r="3.5" fill="#90a7f2"/>
<circle cx="582.50" cy="602.41" r="3.5" fill="#f28d92"/>
<circle cx="624.70" cy="602.41" r="3.5" fill="#2250e5"/>
<line x1="518.90" y1="613.22" x2="522.40" y2="613.22" stroke="#707070" stroke-width="0.7"/>
<text x="515.20" y="616.02" font-size="7.9" text-anchor="end" font-style="italic" textLength="21.96" lengthAdjust="spacingAndGlyphs" stroke="#222" stroke-width="0.22">Cxcl12</text>
<circle cx="540.00" cy="613.22" r="3.5" fill="#5477eb"/>
<circle cx="582.50" cy="613.22" r="3.5" fill="#facfd1"/>
<circle cx="624.70" cy="613.22" r="4.25" fill="#2250e5" stroke="#000" stroke-width="1.3"/>
<line x1="518.90" y1="624.03" x2="522.40" y2="624.03" stroke="#707070" stroke-width="0.7"/>
<text x="515.20" y="626.83" font-size="7.9" text-anchor="end" font-style="italic" textLength="21.96" lengthAdjust="spacingAndGlyphs" stroke="#222" stroke-width="0.22">Cx3cl1</text>
<circle cx="540.00" cy="624.03" r="4.25" fill="#e72d36" stroke="#000" stroke-width="1.3"/>
<circle cx="582.50" cy="624.03" r="4.25" fill="#ea4850" stroke="#000" stroke-width="1.3"/>
<circle cx="624.70" cy="624.03" r="3.5" fill="#fce7e8"/>
<line x1="518.90" y1="634.83" x2="522.40" y2="634.83" stroke="#707070" stroke-width="0.7"/>
<text x="515.20" y="637.63" font-size="7.9" text-anchor="end" font-style="italic" textLength="15.43" lengthAdjust="spacingAndGlyphs" stroke="#222" stroke-width="0.22">Csf3</text>
<circle cx="540.00" cy="634.83" r="3.5" fill="#4d72ea"/>
<circle cx="582.50" cy="634.83" r="3.5" fill="#f6b1b4"/>
<circle cx="624.70" cy="634.83" r="4.25" fill="#1848e3" stroke="#000" stroke-width="1.3"/>
<line x1="518.90" y1="645.64" x2="522.40" y2="645.64" stroke="#707070" stroke-width="0.7"/>
<text x="515.20" y="648.44" font-size="7.9" text-anchor="end" font-style="italic" textLength="14.14" lengthAdjust="spacingAndGlyphs" stroke="#222" stroke-width="0.22">Csf1</text>
<circle cx="540.00" cy="645.64" r="3.5" fill="#90a7f2"/>
<circle cx="582.50" cy="645.64" r="3.5" fill="#f6b1b4"/>
<circle cx="624.70" cy="645.64" r="4.25" fill="#3b63e7" stroke="#000" stroke-width="1.3"/>
<line x1="518.90" y1="656.44" x2="522.40" y2="656.44" stroke="#707070" stroke-width="0.7"/>
<text x="515.20" y="659.24" font-size="7.9" text-anchor="end" font-style="italic" textLength="15.28" lengthAdjust="spacingAndGlyphs" stroke="#222" stroke-width="0.22">Ccl6</text>
<circle cx="540.00" cy="656.44" r="3.5" fill="#5b7deb"/>
<circle cx="582.50" cy="656.44" r="3.5" fill="#f39398"/>
<circle cx="624.70" cy="656.44" r="4.25" fill="#1848e3" stroke="#000" stroke-width="1.3"/>
<line x1="518.90" y1="667.25" x2="522.40" y2="667.25" stroke="#707070" stroke-width="0.7"/>
<text x="515.20" y="670.05" font-size="7.9" text-anchor="end" font-style="italic" textLength="15.28" lengthAdjust="spacingAndGlyphs" stroke="#222" stroke-width="0.22">Ccl5</text>
<circle cx="540.00" cy="667.25" r="3.5" fill="#cdd7f9"/>
<circle cx="582.50" cy="667.25" r="3.5" fill="#f49a9f"/>
<circle cx="624.70" cy="667.25" r="3.5" fill="#718eee"/>
<line x1="518.90" y1="678.06" x2="522.40" y2="678.06" stroke="#707070" stroke-width="0.7"/>
<text x="515.20" y="680.86" font-size="7.9" text-anchor="end" font-style="italic" textLength="15.28" lengthAdjust="spacingAndGlyphs" stroke="#222" stroke-width="0.22">Ccl4</text>
<circle cx="540.00" cy="678.06" r="3.5" fill="#bfccf7"/>
<circle cx="582.50" cy="678.06" r="4.25" fill="#ea4850" stroke="#000" stroke-width="1.3"/>
<circle cx="624.70" cy="678.06" r="4.25" fill="#1848e3" stroke="#000" stroke-width="1.3"/>
<line x1="518.90" y1="688.86" x2="522.40" y2="688.86" stroke="#707070" stroke-width="0.7"/>
<text x="515.20" y="691.66" font-size="7.9" text-anchor="end" font-style="italic" textLength="15.28" lengthAdjust="spacingAndGlyphs" stroke="#222" stroke-width="0.22">Ccl3</text>
<circle cx="540.00" cy="688.86" r="3.5" fill="#bfccf7"/>
<circle cx="582.50" cy="688.86" r="4.25" fill="#ed5e65" stroke="#000" stroke-width="1.3"/>
<circle cx="624.70" cy="688.86" r="4.25" fill="#2753e5" stroke="#000" stroke-width="1.3"/>
<line x1="518.90" y1="699.67" x2="522.40" y2="699.67" stroke="#707070" stroke-width="0.7"/>
<text x="515.20" y="702.47" font-size="7.9" text-anchor="end" font-style="italic" textLength="23.64" lengthAdjust="spacingAndGlyphs" stroke="#222" stroke-width="0.22">Ccl27a</text>
<circle cx="540.00" cy="699.67" r="3.5" fill="#718eee"/>
<circle cx="582.50" cy="699.67" r="3.5" fill="#f8c3c6"/>
<circle cx="624.70" cy="699.67" r="3.5" fill="#355fe7"/>
<line x1="518.90" y1="710.47" x2="522.40" y2="710.47" stroke="#707070" stroke-width="0.7"/>
<text x="515.20" y="713.27" font-size="7.9" text-anchor="end" font-style="italic" textLength="19.46" lengthAdjust="spacingAndGlyphs" stroke="#222" stroke-width="0.22">Ccl22</text>
<circle cx="540.00" cy="710.47" r="3.5" fill="#8aa2f1"/>
<circle cx="582.50" cy="710.47" r="3.5" fill="#f39398"/>
<circle cx="624.70" cy="710.47" r="4.25" fill="#1848e3" stroke="#000" stroke-width="1.3"/>
<line x1="518.90" y1="721.28" x2="522.40" y2="721.28" stroke="#707070" stroke-width="0.7"/>
<text x="515.20" y="724.08" font-size="7.9" text-anchor="end" font-style="italic" textLength="19.46" lengthAdjust="spacingAndGlyphs" stroke="#222" stroke-width="0.22">Ccl20</text>
<circle cx="540.00" cy="721.28" r="3.5" fill="#dbe3fb"/>
<circle cx="582.50" cy="721.28" r="3.5" fill="#e94049"/>
<circle cx="624.70" cy="721.28" r="3.5" fill="#3b63e7"/>
<line x1="518.90" y1="732.09" x2="522.40" y2="732.09" stroke="#707070" stroke-width="0.7"/>
<text x="515.20" y="734.89" font-size="7.9" text-anchor="end" font-style="italic" textLength="18.16" lengthAdjust="spacingAndGlyphs" stroke="#222" stroke-width="0.22">Ccl19</text>
<circle cx="540.00" cy="732.09" r="3.5" fill="#8aa2f1"/>
<circle cx="582.50" cy="732.09" r="3.5" fill="#f28d92"/>
<circle cx="624.70" cy="732.09" r="4.25" fill="#1848e3" stroke="#000" stroke-width="1.3"/>
<line x1="518.90" y1="742.89" x2="522.40" y2="742.89" stroke="#707070" stroke-width="0.7"/>
<text x="515.20" y="745.69" font-size="7.9" text-anchor="end" font-style="italic" textLength="16.87" lengthAdjust="spacingAndGlyphs" stroke="#222" stroke-width="0.22">Ccl11</text>
<circle cx="540.00" cy="742.89" r="4.25" fill="#1848e3" stroke="#000" stroke-width="1.3"/>
<circle cx="582.50" cy="742.89" r="3.5" fill="#f2f5fd"/>
<circle cx="624.70" cy="742.89" r="4.25" fill="#2753e5" stroke="#000" stroke-width="1.3"/>
<line x1="540.00" y1="753.40" x2="540.00" y2="756.70" stroke="#707070" stroke-width="0.7"/>
<line x1="582.50" y1="753.40" x2="582.50" y2="756.70" stroke="#707070" stroke-width="0.7"/>
<line x1="624.70" y1="753.40" x2="624.70" y2="756.70" stroke="#707070" stroke-width="0.7"/>
<text x="543.80" y="759.60" font-size="8.2" text-anchor="end" transform="rotate(-45 543.80 759.60)" textLength="37.80" lengthAdjust="spacingAndGlyphs">Orthotopic</text>
<text x="586.60" y="759.60" font-size="8.2" text-anchor="end" transform="rotate(-45 586.60 759.60)" textLength="49.50" lengthAdjust="spacingAndGlyphs">Subcutaneous</text>
<text x="629.00" y="759.60" font-size="8.2" text-anchor="end" transform="rotate(-45 629.00 759.60)" textLength="33.80" lengthAdjust="spacingAndGlyphs">ABX × site</text>
</g>
<g id="panel-a">
<text x="-0.40" y="9.10" font-size="13" fill="#000" font-weight="bold" stroke="#000" stroke-width="0.45">a</text>
<text x="24.60" y="40.20" font-size="9.3" fill="#8a8a8a" textLength="57.40" lengthAdjust="spacingAndGlyphs">Subcutaneous</text>
<text x="40.60" y="49.60" font-size="9.3" fill="#8a8a8a" textLength="25.00" lengthAdjust="spacingAndGlyphs">(flank)</text>
<text x="28.60" y="148.00" font-size="9.3" fill="#7a28b8" textLength="43.40" lengthAdjust="spacingAndGlyphs">Orthotopic</text>
<text x="33.40" y="158.00" font-size="9.3" fill="#7a28b8" textLength="33.60" lengthAdjust="spacingAndGlyphs">(tongue)</text>
<line x1="62.20" y1="80.20" x2="115.94" y2="60.54" stroke="#6e6e6e" stroke-width="1.3"/>
<polygon points="119.60,59.20 116.19,62.68 114.75,58.74" fill="#6e6e6e"/>
<line x1="62.40" y1="100.00" x2="113.27" y2="124.59" stroke="#6a1fa8" stroke-width="1.3"/>
<polygon points="116.60,126.20 111.95,126.17 113.69,122.57" fill="#6a1fa8"/>
<g filter="url(#soft)">
<polygon points="16.3,69.8 12,76 10.5,88 9.2,93 10,99 20,103 24,108 34,109 40,107 46,109 52,104 53,97 60,96 68.5,95 69,88 64,84 57,80 51,76 51,70 38,70 27,74 20,73" fill="#d9daf9"/>
<ellipse cx="17.52" cy="78.36" rx="6.77" ry="7.94" transform="rotate(-10 17.52 78.36)" fill="url(#cellg)" stroke="#c9caf6" stroke-width="0.5"/>
<ellipse cx="39.47" cy="75.79" rx="12.61" ry="6.31" transform="rotate(-6 39.47 75.79)" fill="url(#cellg)" stroke="#c9caf6" stroke-width="0.5"/>
<ellipse cx="31.30" cy="85.95" rx="7.47" ry="7.01" transform="rotate(0 31.30 85.95)" fill="url(#cellg)" stroke="#c9caf6" stroke-width="0.5"/>
<ellipse cx="49.28" cy="84.90" rx="9.58" ry="7.24" transform="rotate(8 49.28 84.90)" fill="url(#cellg)" stroke="#c9caf6" stroke-width="0.5"/>
<ellipse cx="19.04" cy="92.14" rx="10.28" ry="5.84" transform="rotate(8 19.04 92.14)" fill="url(#cellg)" stroke="#c9caf6" stroke-width="0.5"/>
<ellipse cx="63.30" cy="90.27" rx="6.07" ry="5.84" transform="rotate(0 63.30 90.27)" fill="url(#cellg)" stroke="#c9caf6" stroke-width="0.5"/>
<ellipse cx="44.15" cy="99.61" rx="8.88" ry="9.34" transform="rotate(0 44.15 99.61)" fill="url(#cellg)" stroke="#c9caf6" stroke-width="0.5"/>
<ellipse cx="29.20" cy="103.12" rx="8.88" ry="6.07" transform="rotate(-8 29.20 103.12)" fill="url(#cellg)" stroke="#c9caf6" stroke-width="0.5"/>
<ellipse cx="17.52" cy="78.94" rx="2.34" ry="2.34" fill="#8d8bb6"/>
<ellipse cx="40.53" cy="76.02" rx="2.57" ry="2.57" fill="#8d8bb6"/>
<ellipse cx="30.95" cy="87.70" rx="1.99" ry="2.80" fill="#8d8bb6"/>
<ellipse cx="49.87" cy="84.78" rx="1.99" ry="2.57" fill="#8d8bb6"/>
<ellipse cx="19.04" cy="92.72" rx="2.92" ry="1.99" fill="#8d8bb6"/>
<ellipse cx="63.65" cy="91.20" rx="2.57" ry="1.75" fill="#8d8bb6"/>
<ellipse cx="44.96" cy="99.38" rx="2.10" ry="2.10" fill="#8d8bb6"/>
<ellipse cx="44.96" cy="103.47" rx="2.10" ry="1.99" fill="#8d8bb6"/>
<ellipse cx="30.60" cy="105.45" rx="2.34" ry="1.75" fill="#8d8bb6"/>
</g>
<g transform="translate(100.9 18.9) rotate(44.3) scale(1.0)">
<line x1="31" y1="0" x2="44" y2="0" stroke="#5a68b0" stroke-width="0.5"/>
<rect x="1" y="-1.1" width="10" height="2.2" fill="#6d70b0"/>
<rect x="-0.8" y="-3.4" width="2.6" height="6.8" rx="1.1" fill="#7f83b4" stroke="#4c5086" stroke-width="0.45"/>
<rect x="4.0" y="-3.7" width="2.7" height="7.4" rx="1.1" fill="#9a9ec6" stroke="#565a8e" stroke-width="0.45"/>
<rect x="10" y="-2.2" width="20" height="4.4" rx="0.7" fill="#eef2fb" stroke="#8d96bd" stroke-width="0.5"/>
<rect x="10.3" y="-1.9" width="2.6" height="3.8" fill="#5f63a8"/>
<line x1="15" y1="-2.1" x2="15" y2="0.1" stroke="#a9b1d3" stroke-width="0.35"/>
<line x1="17" y1="-2.1" x2="17" y2="0.1" stroke="#a9b1d3" stroke-width="0.35"/>
<line x1="19" y1="-2.1" x2="19" y2="0.1" stroke="#a9b1d3" stroke-width="0.35"/>
<line x1="21" y1="-2.1" x2="21" y2="0.1" stroke="#a9b1d3" stroke-width="0.35"/>
<line x1="23" y1="-2.1" x2="23" y2="0.1" stroke="#a9b1d3" stroke-width="0.35"/>
<line x1="25" y1="-2.1" x2="25" y2="0.1" stroke="#a9b1d3" stroke-width="0.35"/>
<line x1="27" y1="-2.1" x2="27" y2="0.1" stroke="#a9b1d3" stroke-width="0.35"/>
<rect x="29.8" y="-1.1" width="2.2" height="2.2" fill="#2e3a8c"/>
</g>
<g transform="translate(84.0 134.7) rotate(23.0) scale(0.95)">
<line x1="31" y1="0" x2="44" y2="0" stroke="#5a68b0" stroke-width="0.5"/>
<rect x="1" y="-1.1" width="10" height="2.2" fill="#6d70b0"/>
<rect x="-0.8" y="-3.4" width="2.6" height="6.8" rx="1.1" fill="#7f83b4" stroke="#4c5086" stroke-width="0.45"/>
<rect x="4.0" y="-3.7" width="2.7" height="7.4" rx="1.1" fill="#9a9ec6" stroke="#565a8e" stroke-width="0.45"/>
<rect x="10" y="-2.2" width="20" height="4.4" rx="0.7" fill="#eef2fb" stroke="#8d96bd" stroke-width="0.5"/>
<rect x="10.3" y="-1.9" width="2.6" height="3.8" fill="#5f63a8"/>
<line x1="15" y1="-2.1" x2="15" y2="0.1" stroke="#a9b1d3" stroke-width="0.35"/>
<line x1="17" y1="-2.1" x2="17" y2="0.1" stroke="#a9b1d3" stroke-width="0.35"/>
<line x1="19" y1="-2.1" x2="19" y2="0.1" stroke="#a9b1d3" stroke-width="0.35"/>
<line x1="21" y1="-2.1" x2="21" y2="0.1" stroke="#a9b1d3" stroke-width="0.35"/>
<line x1="23" y1="-2.1" x2="23" y2="0.1" stroke="#a9b1d3" stroke-width="0.35"/>
<line x1="25" y1="-2.1" x2="25" y2="0.1" stroke="#a9b1d3" stroke-width="0.35"/>
<line x1="27" y1="-2.1" x2="27" y2="0.1" stroke="#a9b1d3" stroke-width="0.35"/>
<rect x="29.8" y="-1.1" width="2.2" height="2.2" fill="#2e3a8c"/>
</g>
<g transform="translate(110 20) scale(0.146)" stroke-linejoin="round" stroke-linecap="round">
<path d="M140 282 C 100 312, 66 372, 90 428 C 116 474, 250 490, 400 486 C 500 484, 570 504, 622 552 C 566 516, 500 500, 400 501 C 240 506, 106 494, 74 434 C 50 376, 92 306, 128 280 Z" fill="#f4f4f4" stroke="#8a8a8a" stroke-width="4"/>
<path d="M236 352 C 240 372, 262 388, 296 386 C 300 372, 284 360, 268 354 Z" fill="#dcdcdc" stroke="#8a8a8a" stroke-width="3.5"/>
<path d="M430 338 C 436 366, 446 392, 470 408 C 482 396, 468 362, 456 336 Z" fill="#e2e2e2" stroke="#8a8a8a" stroke-width="3.5"/>
<path d="M436 330 C 444 350, 456 364, 476 372 C 482 360, 470 342, 462 328 Z" fill="#e6e6e6" stroke="#8a8a8a" stroke-width="3.5"/>
<path d="M440 150 C 436 110, 442 82, 456 76 C 476 80, 492 112, 500 150 Z" fill="#e9e9e9" stroke="#8a8a8a" stroke-width="3.5"/>
<path d="M130 292 C 128 238, 158 170, 214 136 C 262 106, 334 98, 392 126 C 430 120, 470 130, 500 150 C 522 178, 548 214, 566 246 C 574 262, 584 274, 580 286 C 572 300, 548 304, 528 300 C 506 304, 486 316, 470 332 C 440 346, 400 348, 360 350 C 320 360, 280 362, 248 356 C 200 346, 150 336, 130 292 Z" fill="url(#mg)" stroke="#8a8a8a" stroke-width="4"/>
<path d="M150 296 C 196 338, 320 350, 452 322 C 392 352, 262 364, 204 348 C 172 338, 156 320, 150 296 Z" fill="#d3d3d3" opacity="0.85"/>
<ellipse cx="472" cy="196" rx="24" ry="46" fill="#f8f8f8" opacity="0.85" transform="rotate(-32 472 196)"/>
<path d="M376 168 C 372 138, 396 120, 424 132 C 448 146, 452 190, 436 214 C 410 208, 384 196, 376 168 Z" fill="#ececec" stroke="#8a8a8a" stroke-width="3.5"/>
<path d="M392 168 C 392 150, 408 142, 424 150 C 436 162, 438 186, 430 200 C 412 196, 396 186, 392 168 Z" fill="#dddddd"/>
<ellipse cx="503" cy="242" rx="12" ry="9" fill="#555" transform="rotate(20 503 242)"/>
<path d="M520 300 L 478 318 M522 304 L 492 340 M526 306 L 512 352 M530 306 L 528 350 M566 262 L 586 248 M570 270 L 590 262" fill="none" stroke="#9a9a9a" stroke-width="2.2"/>
</g>
<g transform="translate(110 130) scale(0.058394)">
<path d="M120 540 C 118 480, 180 380, 300 240 C 370 170, 450 110, 540 105 C 590 108, 618 160, 610 250 C 608 290, 600 310, 580 322 C 520 345, 440 380, 390 430 C 350 480, 310 545, 230 575 C 170 592, 125 580, 120 540 Z" fill="url(#tg)" stroke="#a23a5e" stroke-width="8"/>
<g filter="url(#tb)">
<path d="M215 500 C 240 430, 290 370, 345 325" fill="none" stroke="#dd9ab6" stroke-width="34" stroke-linecap="round"/>
<ellipse cx="415" cy="262" rx="42" ry="16" fill="#e6b0c8" transform="rotate(-18 415 262)"/>
<path d="M420 165 C 470 135, 540 125, 585 170" fill="none" stroke="#c2678a" stroke-width="30" stroke-linecap="round"/>
<path d="M420 400 C 470 360, 540 340, 590 300" fill="none" stroke="#92304f" stroke-width="22" stroke-linecap="round"/>
</g>
<path d="M312 232 C 330 262, 360 290, 400 292 C 440 292, 480 280, 520 292" fill="none" stroke="#8a2e4e" stroke-width="7" opacity="0.75"/>
</g>
<clipPath id="hclip"><rect x="150" y="110" width="34.7" height="46.75"/></clipPath>
<g clip-path="url(#hclip)"><g transform="translate(140 108) scale(0.073)" stroke-linejoin="round" stroke-linecap="round">
<path d="M392 225 C 408 170, 440 118, 470 110 C 492 106, 502 122, 498 152 C 494 192, 488 220, 494 250 Z" fill="#ececec" stroke="#8a8a8a" stroke-width="7"/>
<path d="M420 215 C 432 175, 452 140, 474 128 C 484 150, 480 200, 478 236 Z" fill="#f6f6f6"/>
<path d="M394 218 C 366 280, 318 345, 290 385 C 268 424, 250 470, 236 505 C 230 526, 238 546, 252 553 C 282 567, 332 577, 382 570 C 420 562, 466 560, 500 572 C 530 590, 545 630, 540 668 L 640 668 L 640 190 C 580 200, 520 225, 492 262 Z" fill="#e8e8e8" stroke="#8a8a8a" stroke-width="7"/>
<path d="M560 400 C 590 380, 620 360, 640 350 L 640 668 L 545 668 C 550 600, 560 500, 560 400 Z" fill="#d6d6d6"/>
<path d="M492 262 C 512 228, 560 205, 640 194 L 640 330 C 600 345, 556 370, 532 398 C 506 362, 490 312, 492 262 Z" fill="#f1f1f1" stroke="#8a8a8a" stroke-width="7"/>
<path d="M520 290 C 540 262, 590 240, 640 232 L 640 312 C 606 324, 566 344, 540 372 C 526 346, 518 318, 520 290 Z" fill="#e0e0e0"/>
<path d="M518 305 L 528 350" fill="none" stroke="#8a8a8a" stroke-width="6"/>
<path d="M440 668 C 452 636, 482 606, 520 590 C 540 612, 546 640, 540 668 Z" fill="#f6f6f6" stroke="#9a9a9a" stroke-width="6"/>
<path d="M400 560 C 430 548, 480 552, 510 580 C 480 590, 450 610, 436 640 C 420 610, 410 585, 400 560 Z" fill="#f8f8f8"/>
<ellipse cx="385" cy="440" rx="25" ry="18" fill="#666" transform="rotate(-20 385 440)"/>
<ellipse cx="332" cy="568" rx="13" ry="18" fill="#8a8a8a" transform="rotate(-20 332 568)"/>
<path d="M340 584 L 330 660 M358 584 L 376 664 M374 578 L 406 640 M386 572 L 430 606 M250 490 L 215 455 M246 502 L 206 486" fill="none" stroke="#aaa" stroke-width="5"/>
</g></g>
<circle cx="158.80" cy="146.60" r="8.6" fill="none" stroke="#6a1fa8" stroke-width="1.2"/>
<line x1="145.60" y1="130.30" x2="157.30" y2="138.00" stroke="#6a1fa8" stroke-width="1.2"/>
<line x1="145.60" y1="163.00" x2="157.80" y2="155.30" stroke="#6a1fa8" stroke-width="1.2"/>
</g>
<g id="panel-b">
<text x="223.00" y="9.10" font-size="13" fill="#000" font-weight="bold" stroke="#000" stroke-width="0.45">b</text>
<line x1="235.80" y1="13.60" x2="270.20" y2="13.60" stroke="#555" stroke-width="0.6"/>
<text x="275.90" y="16.00" font-size="8.8" textLength="43.10" lengthAdjust="spacingAndGlyphs">Orthotopic</text>
<line x1="323.80" y1="13.60" x2="359.20" y2="13.60" stroke="#555" stroke-width="0.6"/>
<line x1="370.80" y1="13.60" x2="398.80" y2="13.60" stroke="#555" stroke-width="0.6"/>
<text x="403.60" y="16.00" font-size="8.8" textLength="57.20" lengthAdjust="spacingAndGlyphs">Subcutaneous</text>
<line x1="465.00" y1="13.60" x2="494.20" y2="13.60" stroke="#555" stroke-width="0.6"/>
<text x="264.80" y="32.90" font-size="8.8" text-anchor="middle" textLength="29.50" lengthAdjust="spacingAndGlyphs">Control</text>
<text x="331.20" y="32.90" font-size="8.8" text-anchor="middle" textLength="16.00" lengthAdjust="spacingAndGlyphs">ABX</text>
<text x="398.30" y="32.90" font-size="8.8" text-anchor="middle" textLength="29.50" lengthAdjust="spacingAndGlyphs">Control</text>
<text x="464.80" y="32.90" font-size="8.8" text-anchor="middle" textLength="16.00" lengthAdjust="spacingAndGlyphs">ABX</text>
<text x="230.50" y="67.40" font-size="8.9" text-anchor="middle" transform="rotate(-90 230.50 67.40)" textLength="14.80" lengthAdjust="spacingAndGlyphs">16S</text>
<text x="230.50" y="130.30" font-size="8.9" text-anchor="middle" transform="rotate(-90 230.50 130.30)" textLength="47.80" lengthAdjust="spacingAndGlyphs">16S + DAPI</text>
<rect x="234.20" y="37.20" width="60.80" height="60.50" fill="#031b05"/>
<rect x="300.90" y="37.20" width="60.80" height="60.50" fill="#021a03"/>
<rect x="367.90" y="37.20" width="60.40" height="60.50" fill="#010a02"/>
<rect x="434.50" y="37.20" width="60.50" height="60.50" fill="#010a02"/>
<rect x="234.20" y="102.40" width="60.80" height="60.50" fill="#0a2fa0"/>
<rect x="234.20" y="102.40" width="60.80" height="60.50" fill="#0a2fa0" filter="url(#d1)"/>
<rect x="300.90" y="102.40" width="60.80" height="60.50" fill="#0a2fa0"/>
<rect x="300.90" y="102.40" width="60.80" height="60.50" fill="#0a2fa0" filter="url(#d2)"/>
<rect x="367.90" y="102.40" width="60.40" height="60.50" fill="#0a2fa0"/>
<rect x="367.90" y="102.40" width="60.40" height="60.50" fill="#0a2fa0" filter="url(#d3)"/>
<rect x="434.50" y="102.40" width="60.50" height="60.50" fill="#0a2fa0"/>
<rect x="434.50" y="102.40" width="60.50" height="60.50" fill="#0a2fa0" filter="url(#d4)"/>
<g filter="url(#gb2)"><ellipse cx="278.6" cy="149.2" rx="3.6" ry="4.6" fill="#2f8ef5" opacity="0.75"/><ellipse cx="243" cy="133" rx="2.6" ry="3" fill="#2f8ef5" opacity="0.5"/><ellipse cx="292" cy="148" rx="2.2" ry="3.5" fill="#2f8ef5" opacity="0.5"/></g>
<g filter="url(#gb)">
<circle cx="245.01" cy="51.57" r="0.88" fill="#22dd2a"/>
<circle cx="266.68" cy="46.56" r="0.792" fill="#22dd2a"/>
<circle cx="277.28" cy="49.45" r="0.88" fill="#22dd2a"/>
<circle cx="278.05" cy="54.08" r="0.9680000000000001" fill="#22dd2a"/>
<circle cx="289.61" cy="53.50" r="1.056" fill="#22dd2a"/>
<circle cx="263.02" cy="56.39" r="0.88" fill="#22dd2a"/>
<circle cx="272.46" cy="58.60" r="0.7040000000000001" fill="#22dd2a"/>
<circle cx="250.11" cy="59.86" r="0.7040000000000001" fill="#22dd2a"/>
<circle cx="276.51" cy="61.49" r="0.7040000000000001" fill="#22dd2a"/>
<circle cx="263.60" cy="63.71" r="1.056" fill="#22dd2a"/>
<circle cx="245.01" cy="63.71" r="0.792" fill="#22dd2a"/>
<circle cx="239.23" cy="63.71" r="0.7040000000000001" fill="#22dd2a"/>
<circle cx="247.41" cy="67.27" r="0.792" fill="#22dd2a"/>
<circle cx="254.93" cy="63.90" r="0.616" fill="#22dd2a"/>
<circle cx="278.05" cy="66.02" r="0.7040000000000001" fill="#22dd2a"/>
<circle cx="277.76" cy="68.24" r="0.7040000000000001" fill="#22dd2a"/>
<circle cx="266.49" cy="69.49" r="0.792" fill="#22dd2a"/>
<circle cx="259.46" cy="68.24" r="0.528" fill="#22dd2a"/>
<circle cx="237.01" cy="73.34" r="0.792" fill="#22dd2a"/>
<circle cx="246.45" cy="74.02" r="0.792" fill="#22dd2a"/>
<circle cx="245.97" cy="76.91" r="1.056" fill="#22dd2a"/>
<circle cx="254.93" cy="75.94" r="0.9680000000000001" fill="#22dd2a"/>
<circle cx="260.71" cy="77.20" r="0.792" fill="#22dd2a"/>
<circle cx="262.64" cy="81.24" r="0.88" fill="#22dd2a"/>
<circle cx="290.29" cy="79.32" r="0.7040000000000001" fill="#22dd2a"/>
<circle cx="260.71" cy="87.79" r="0.9680000000000001" fill="#22dd2a"/>
<circle cx="266.20" cy="91.36" r="0.88" fill="#22dd2a"/>
<circle cx="248.38" cy="89.72" r="0.792" fill="#22dd2a"/>
<circle cx="278.24" cy="89.72" r="0.792" fill="#22dd2a"/>
<circle cx="282.10" cy="87.02" r="0.616" fill="#22dd2a"/>
<circle cx="280.94" cy="93.09" r="0.616" fill="#22dd2a"/>
<circle cx="294.43" cy="40.30" r="0.616" fill="#22dd2a"/>
<circle cx="270.54" cy="38.66" r="0.528" fill="#22dd2a"/>
<circle cx="237.78" cy="38.85" r="0.528" fill="#22dd2a"/>
<circle cx="246.93" cy="44.63" r="0.616" fill="#22dd2a"/>
<circle cx="279.21" cy="50.41" r="0.616" fill="#22dd2a"/>
<circle cx="294.43" cy="85.10" r="0.528" fill="#22dd2a"/>
<circle cx="264.27" cy="83.65" r="0.616" fill="#22dd2a"/>
<circle cx="244.04" cy="71.42" r="0.616" fill="#22dd2a"/>
<circle cx="250.30" cy="96.18" r="0.528" fill="#22dd2a"/>
<circle cx="275.35" cy="52.34" r="0.616" fill="#22dd2a"/>
<circle cx="243.56" cy="77.39" r="0.7040000000000001" fill="#22dd2a"/>
<circle cx="280.17" cy="81.24" r="0.528" fill="#22dd2a"/>
<circle cx="277.28" cy="83.17" r="0.528" fill="#22dd2a"/>
<circle cx="265.72" cy="80.28" r="0.616" fill="#22dd2a"/>
<circle cx="251.27" cy="61.97" r="0.616" fill="#22dd2a"/>
<circle cx="240.67" cy="40.78" r="0.44" fill="#22dd2a"/>
<circle cx="261.87" cy="62.94" r="0.792" fill="#22dd2a"/>
<circle cx="332.49" cy="74.69" r="0.8" fill="#1fbf26"/>
<circle cx="331.43" cy="77.39" r="0.8" fill="#1fbf26"/>
<circle cx="313.61" cy="87.70" r="0.9" fill="#1fbf26"/>
<circle cx="303.78" cy="63.42" r="0.6" fill="#1fbf26"/>
<circle cx="336.54" cy="86.25" r="0.6" fill="#1fbf26"/>
<circle cx="308.60" cy="91.36" r="0.6" fill="#1fbf26"/>
<circle cx="317.56" cy="96.66" r="0.7" fill="#1fbf26"/>
<circle cx="311.01" cy="79.80" r="0.5" fill="#1fbf26"/>
<circle cx="245.01" cy="116.77" r="0.9" fill="#25e884"/>
<circle cx="266.68" cy="111.76" r="0.81" fill="#25e884"/>
<circle cx="277.28" cy="114.65" r="0.9" fill="#25e884"/>
<circle cx="278.05" cy="119.28" r="0.9900000000000001" fill="#25e884"/>
<circle cx="289.61" cy="118.70" r="1.08" fill="#25e884"/>
<circle cx="263.02" cy="121.59" r="0.9" fill="#25e884"/>
<circle cx="272.46" cy="123.80" r="0.7200000000000001" fill="#25e884"/>
<circle cx="250.11" cy="125.06" r="0.7200000000000001" fill="#25e884"/>
<circle cx="276.51" cy="126.69" r="0.7200000000000001" fill="#25e884"/>
<circle cx="263.60" cy="128.91" r="1.08" fill="#25e884"/>
<circle cx="245.01" cy="128.91" r="0.81" fill="#25e884"/>
<circle cx="239.23" cy="128.91" r="0.7200000000000001" fill="#25e884"/>
<circle cx="247.41" cy="132.47" r="0.81" fill="#25e884"/>
<circle cx="254.93" cy="129.10" r="0.63" fill="#25e884"/>
<circle cx="278.05" cy="131.22" r="0.7200000000000001" fill="#25e884"/>
<circle cx="277.76" cy="133.44" r="0.7200000000000001" fill="#25e884"/>
<circle cx="266.49" cy="134.69" r="0.81" fill="#25e884"/>
<circle cx="259.46" cy="133.44" r="0.54" fill="#25e884"/>
<circle cx="237.01" cy="138.54" r="0.81" fill="#25e884"/>
<circle cx="246.45" cy="139.22" r="0.81" fill="#25e884"/>
<circle cx="245.97" cy="142.11" r="1.08" fill="#25e884"/>
<circle cx="254.93" cy="141.14" r="0.9900000000000001" fill="#25e884"/>
<circle cx="260.71" cy="142.40" r="0.81" fill="#25e884"/>
<circle cx="262.64" cy="146.44" r="0.9" fill="#25e884"/>
<circle cx="290.29" cy="144.52" r="0.7200000000000001" fill="#25e884"/>
<circle cx="260.71" cy="152.99" r="0.9900000000000001" fill="#25e884"/>
<circle cx="266.20" cy="156.56" r="0.9" fill="#25e884"/>
<circle cx="248.38" cy="154.92" r="0.81" fill="#25e884"/>
<circle cx="278.24" cy="154.92" r="0.81" fill="#25e884"/>
<circle cx="282.10" cy="152.22" r="0.63" fill="#25e884"/>
<circle cx="280.94" cy="158.29" r="0.63" fill="#25e884"/>
<circle cx="294.43" cy="105.50" r="0.63" fill="#25e884"/>
<circle cx="270.54" cy="103.86" r="0.54" fill="#25e884"/>
<circle cx="237.78" cy="104.05" r="0.54" fill="#25e884"/>
<circle cx="246.93" cy="109.83" r="0.63" fill="#25e884"/>
<circle cx="279.21" cy="115.61" r="0.63" fill="#25e884"/>
<circle cx="294.43" cy="150.30" r="0.54" fill="#25e884"/>
<circle cx="264.27" cy="148.85" r="0.63" fill="#25e884"/>
<circle cx="244.04" cy="136.62" r="0.63" fill="#25e884"/>
<circle cx="250.30" cy="161.38" r="0.54" fill="#25e884"/>
<circle cx="275.35" cy="117.54" r="0.63" fill="#25e884"/>
<circle cx="243.56" cy="142.59" r="0.7200000000000001" fill="#25e884"/>
<circle cx="280.17" cy="146.44" r="0.54" fill="#25e884"/>
<circle cx="277.28" cy="148.37" r="0.54" fill="#25e884"/>
<circle cx="265.72" cy="145.48" r="0.63" fill="#25e884"/>
<circle cx="251.27" cy="127.17" r="0.63" fill="#25e884"/>
<circle cx="240.67" cy="105.98" r="0.45" fill="#25e884"/>
<circle cx="261.87" cy="128.14" r="0.81" fill="#25e884"/>
<circle cx="332.49" cy="139.89" r="0.6400000000000001" fill="#23e37a"/>
<circle cx="331.43" cy="142.59" r="0.6400000000000001" fill="#23e37a"/>
<circle cx="313.61" cy="152.90" r="0.7200000000000001" fill="#23e37a"/>
</g>
<line x1="237.97" y1="43.48" x2="241.38" y2="47.55" stroke="#fff" stroke-width="1.0"/>
<polygon points="243.37,49.93 239.75,48.26 242.36,46.08" fill="#fff"/>
<line x1="258.49" y1="47.33" x2="262.21" y2="51.48" stroke="#fff" stroke-width="1.0"/>
<polygon points="264.27,53.79 260.61,52.24 263.14,49.97" fill="#fff"/>
<line x1="271.02" y1="42.51" x2="274.43" y2="46.99" stroke="#fff" stroke-width="1.0"/>
<polygon points="276.32,49.45 272.78,47.62 275.48,45.56" fill="#fff"/>
<line x1="254.35" y1="55.42" x2="257.93" y2="59.62" stroke="#fff" stroke-width="1.0"/>
<polygon points="259.94,61.97 256.31,60.34 258.90,58.13" fill="#fff"/>
<line x1="270.05" y1="60.53" x2="273.82" y2="64.92" stroke="#fff" stroke-width="1.0"/>
<polygon points="275.83,67.27 272.20,65.65 274.78,63.43" fill="#fff"/>
<line x1="248.18" y1="69.87" x2="251.65" y2="73.89" stroke="#fff" stroke-width="1.0"/>
<polygon points="253.68,76.23 250.04,74.62 252.61,72.40" fill="#fff"/>
<line x1="284.50" y1="71.80" x2="288.16" y2="76.41" stroke="#fff" stroke-width="1.0"/>
<polygon points="290.09,78.83 286.52,77.07 289.18,74.96" fill="#fff"/>
<line x1="268.13" y1="78.16" x2="271.84" y2="82.31" stroke="#fff" stroke-width="1.0"/>
<polygon points="273.91,84.61 270.24,83.07 272.77,80.80" fill="#fff"/>
<line x1="240.19" y1="81.44" x2="243.88" y2="85.50" stroke="#fff" stroke-width="1.0"/>
<polygon points="245.97,87.79 242.29,86.27 244.81,83.99" fill="#fff"/>
<line x1="327.09" y1="38.37" x2="330.65" y2="42.48" stroke="#fff" stroke-width="1.0"/>
<polygon points="332.68,44.83 329.04,43.22 331.61,40.99" fill="#fff"/>
<line x1="327.67" y1="66.31" x2="331.16" y2="70.40" stroke="#fff" stroke-width="1.0"/>
<polygon points="333.16,72.76 329.54,71.12 332.13,68.92" fill="#fff"/>
<line x1="304.26" y1="71.61" x2="308.06" y2="76.16" stroke="#fff" stroke-width="1.0"/>
<polygon points="310.04,78.55 306.43,76.87 309.04,74.69" fill="#fff"/>
<rect x="482.00" y="157.00" width="9.20" height="3.00" fill="#fff"/>
</g></svg></body></html>
